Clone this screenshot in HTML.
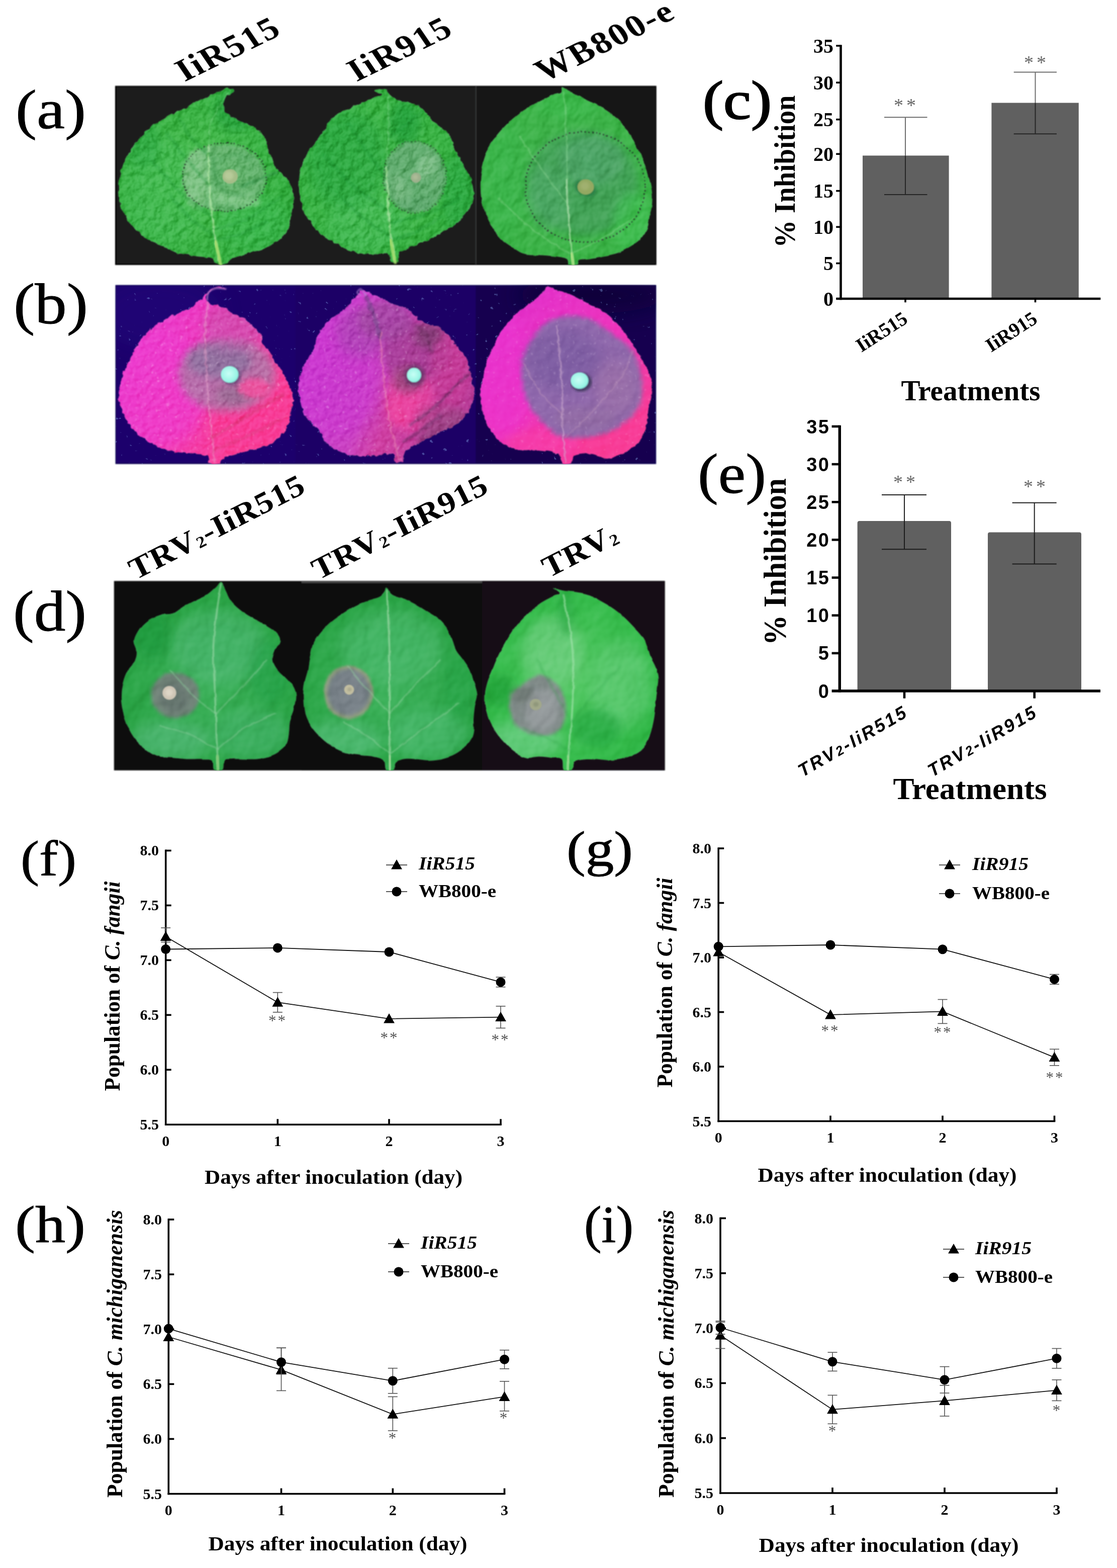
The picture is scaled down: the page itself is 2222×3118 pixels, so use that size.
<!DOCTYPE html>
<html lang="en">
<head>
<meta charset="utf-8">
<title>Figure</title>
<style>
html,body{margin:0;padding:0;background:#fff;}
body{width:2222px;height:3118px;overflow:hidden;}
svg{display:block;}
text{white-space:pre;}
</style>
</head>
<body>
<svg width="2222" height="3118" viewBox="0 0 2222 3118">
<rect width="2222" height="3118" fill="#fff"/>

<defs>
<filter id="b1" x="-50%" y="-50%" width="200%" height="200%"><feGaussianBlur stdDeviation="1"/></filter>
<filter id="b2" x="-50%" y="-50%" width="200%" height="200%"><feGaussianBlur stdDeviation="2"/></filter>
<filter id="b3" x="-50%" y="-50%" width="200%" height="200%"><feGaussianBlur stdDeviation="3"/></filter>
<filter id="b4" x="-50%" y="-50%" width="200%" height="200%"><feGaussianBlur stdDeviation="4"/></filter>
<filter id="b5" x="-50%" y="-50%" width="200%" height="200%"><feGaussianBlur stdDeviation="5"/></filter>
<filter id="b8" x="-50%" y="-50%" width="200%" height="200%"><feGaussianBlur stdDeviation="8"/></filter>
<filter id="b12" x="-50%" y="-50%" width="200%" height="200%"><feGaussianBlur stdDeviation="12"/></filter>
<filter id="b20" x="-50%" y="-50%" width="200%" height="200%"><feGaussianBlur stdDeviation="20"/></filter>
<filter id="soft" x="-2%" y="-5%" width="104%" height="110%"><feGaussianBlur stdDeviation="1.1"/></filter>
<filter id="rough" x="-5%" y="-5%" width="110%" height="110%"><feTurbulence type="fractalNoise" baseFrequency="0.09" numOctaves="2" seed="7" result="n"/><feDisplacementMap in="SourceGraphic" in2="n" scale="7" xChannelSelector="R" yChannelSelector="G"/></filter>
<filter id="rough2" x="-5%" y="-5%" width="110%" height="110%"><feTurbulence type="fractalNoise" baseFrequency="0.05" numOctaves="2" seed="11" result="n"/><feDisplacementMap in="SourceGraphic" in2="n" scale="5" xChannelSelector="R" yChannelSelector="G"/></filter>
<filter id="texL" x="0" y="0" width="100%" height="100%"><feTurbulence type="fractalNoise" baseFrequency="0.055 0.05" numOctaves="3" seed="5"/><feColorMatrix type="matrix" values="0 0 0 0 1  0 0 0 0 1  0 0 0 0 1  3.2 0 0 0 -1.45"/></filter>
<filter id="texD" x="0" y="0" width="100%" height="100%"><feTurbulence type="fractalNoise" baseFrequency="0.05 0.055" numOctaves="3" seed="23"/><feColorMatrix type="matrix" values="0 0 0 0 0  0 0 0 0 0.25  0 0 0 0 0.05  0 3.2 0 0 -1.45"/></filter>
<filter id="texS" x="0" y="0" width="100%" height="100%"><feTurbulence type="fractalNoise" baseFrequency="0.02 0.022" numOctaves="2" seed="9"/><feColorMatrix type="matrix" values="0 0 0 0 1  0 0 0 0 1  0 0 0 0 1  2.6 0 0 0 -1.1"/></filter>
<filter id="spark" x="0" y="0" width="100%" height="100%"><feTurbulence type="fractalNoise" baseFrequency="0.16" numOctaves="2" seed="4"/><feColorMatrix type="matrix" values="0 0 0 0 1  0 0 0 0 0.85  0 0 0 0 1  9 0 0 0 -6.1"/></filter>
<filter id="sparkB" x="0" y="0" width="100%" height="100%"><feTurbulence type="fractalNoise" baseFrequency="0.11" numOctaves="2" seed="14"/><feColorMatrix type="matrix" values="0 0 0 0 0.3  0 0 0 0 0.55  0 0 0 0 1  0 11 0 0 -8.1"/></filter>
<filter id="grain" x="0" y="0" width="100%" height="100%"><feTurbulence type="fractalNoise" baseFrequency="0.5" numOctaves="2" seed="2"/><feColorMatrix type="matrix" values="0 0 0 0 1  0 0 0 0 1  0 0 0 0 1  1.2 0 0 0 -0.45"/></filter>
<filter id="bumpA1" x="-6%" y="-6%" width="112%" height="112%" color-interpolation-filters="sRGB"><feTurbulence type="fractalNoise" baseFrequency="0.06 0.055" numOctaves="3" seed="3" result="n"/><feDiffuseLighting in="n" surfaceScale="5.5" diffuseConstant="0.61" lighting-color="#fff" result="l"><feDistantLight azimuth="225" elevation="55"/></feDiffuseLighting><feBlend in="l" in2="SourceGraphic" mode="soft-light" result="b"/><feComposite in="b" in2="SourceGraphic" operator="in" result="m"/><feTurbulence type="fractalNoise" baseFrequency="0.09" numOctaves="2" seed="7" result="d"/><feDisplacementMap in="m" in2="d" scale="7" xChannelSelector="R" yChannelSelector="G" result="r"/><feGaussianBlur in="r" stdDeviation="1.0"/></filter>
<filter id="bumpA2" x="-6%" y="-6%" width="112%" height="112%" color-interpolation-filters="sRGB"><feTurbulence type="fractalNoise" baseFrequency="0.06 0.055" numOctaves="3" seed="31" result="n"/><feDiffuseLighting in="n" surfaceScale="5.5" diffuseConstant="0.61" lighting-color="#fff" result="l"><feDistantLight azimuth="225" elevation="55"/></feDiffuseLighting><feBlend in="l" in2="SourceGraphic" mode="soft-light" result="b"/><feComposite in="b" in2="SourceGraphic" operator="in" result="m"/><feTurbulence type="fractalNoise" baseFrequency="0.09" numOctaves="2" seed="17" result="d"/><feDisplacementMap in="m" in2="d" scale="7" xChannelSelector="R" yChannelSelector="G" result="r"/><feGaussianBlur in="r" stdDeviation="1.0"/></filter>
<filter id="bumpA3" x="-6%" y="-6%" width="112%" height="112%" color-interpolation-filters="sRGB"><feTurbulence type="fractalNoise" baseFrequency="0.035 0.03" numOctaves="3" seed="12" result="n"/><feDiffuseLighting in="n" surfaceScale="4.5" diffuseConstant="0.61" lighting-color="#fff" result="l"><feDistantLight azimuth="225" elevation="55"/></feDiffuseLighting><feBlend in="l" in2="SourceGraphic" mode="soft-light" result="b"/><feComposite in="b" in2="SourceGraphic" operator="in" result="m"/><feTurbulence type="fractalNoise" baseFrequency="0.05" numOctaves="2" seed="11" result="d"/><feDisplacementMap in="m" in2="d" scale="5" xChannelSelector="R" yChannelSelector="G" result="r"/><feGaussianBlur in="r" stdDeviation="1.0"/></filter>
<filter id="bumpB" x="-6%" y="-6%" width="112%" height="112%" color-interpolation-filters="sRGB"><feTurbulence type="fractalNoise" baseFrequency="0.08" numOctaves="2" seed="8" result="n"/><feDiffuseLighting in="n" surfaceScale="3.0" diffuseConstant="0.61" lighting-color="#fff" result="l"><feDistantLight azimuth="225" elevation="55"/></feDiffuseLighting><feBlend in="l" in2="SourceGraphic" mode="soft-light" result="b"/><feComposite in="b" in2="SourceGraphic" operator="in" result="m"/><feTurbulence type="fractalNoise" baseFrequency="0.11" numOctaves="2" seed="21" result="d"/><feDisplacementMap in="m" in2="d" scale="8" xChannelSelector="R" yChannelSelector="G" result="r"/><feGaussianBlur in="r" stdDeviation="1.3"/></filter>
<filter id="bumpB3" x="-6%" y="-6%" width="112%" height="112%" color-interpolation-filters="sRGB"><feTurbulence type="fractalNoise" baseFrequency="0.05" numOctaves="2" seed="9" result="n"/><feDiffuseLighting in="n" surfaceScale="1.6" diffuseConstant="0.61" lighting-color="#fff" result="l"><feDistantLight azimuth="225" elevation="55"/></feDiffuseLighting><feBlend in="l" in2="SourceGraphic" mode="soft-light" result="b"/><feComposite in="b" in2="SourceGraphic" operator="in" result="m"/><feTurbulence type="fractalNoise" baseFrequency="0.09" numOctaves="2" seed="23" result="d"/><feDisplacementMap in="m" in2="d" scale="6" xChannelSelector="R" yChannelSelector="G" result="r"/><feGaussianBlur in="r" stdDeviation="1.3"/></filter>
<filter id="bumpD" x="-6%" y="-6%" width="112%" height="112%" color-interpolation-filters="sRGB"><feTurbulence type="fractalNoise" baseFrequency="0.022 0.02" numOctaves="3" seed="5" result="n"/><feDiffuseLighting in="n" surfaceScale="4.0" diffuseConstant="0.61" lighting-color="#fff" result="l"><feDistantLight azimuth="225" elevation="55"/></feDiffuseLighting><feBlend in="l" in2="SourceGraphic" mode="soft-light" result="b"/><feComposite in="b" in2="SourceGraphic" operator="in" result="m"/><feTurbulence type="fractalNoise" baseFrequency="0.04" numOctaves="2" seed="13" result="d"/><feDisplacementMap in="m" in2="d" scale="5" xChannelSelector="R" yChannelSelector="G" result="r"/><feGaussianBlur in="r" stdDeviation="1.0"/></filter>
<clipPath id="cA1"><path d="M463.8 177.2C466.3 178.5 468.4 180.9 466.3 183.4C464.3 185.9 455 187.3 451.5 192C448 196.7 445.6 206.4 445.4 211.7C445.2 217.1 446.8 220.3 450.3 224C453.8 227.7 459.5 230.2 466.3 233.9C473.1 237.6 483.1 242.1 490.9 246.2C498.7 250.3 506.9 253.6 513.1 258.5C519.3 263.4 524.6 269.2 527.9 275.8C531.2 282.3 530.8 291.8 532.8 297.9C534.9 304.1 537.3 307 540.2 312.7C543.1 318.5 545.1 325.4 550 332.4C555 339.4 564.4 347.2 569.8 354.6C575.1 362 579.6 368.9 582.1 376.7C584.5 384.5 584.9 393.2 584.5 401.4C584.1 409.6 581.2 417.8 579.6 426C578 434.2 577.1 443.7 574.7 450.6C572.2 457.6 569.3 462.5 564.8 467.9C560.3 473.2 554.6 478.1 547.6 482.7C540.6 487.2 532.4 491.3 523 495C513.5 498.7 501.2 501.5 490.9 504.8C480.7 508.1 468.4 511.4 461.4 514.7C454.4 518 454.4 522.9 449.1 524.5C443.7 526.2 433.9 526.2 429.4 524.5C424.8 522.9 428.1 517.1 422 514.7C415.8 512.2 403.1 511.4 392.4 509.8C381.7 508.1 369.4 508.1 357.9 504.8C346.4 501.5 334.1 495 323.4 490C312.8 485.1 302.9 481 293.9 475.3C284.9 469.5 276.7 463 269.3 455.6C261.9 448.2 254.5 439.1 249.6 430.9C244.6 422.7 242 414.5 239.7 406.3C237.4 398.1 236.4 389.9 236 381.7C235.6 373.5 235.8 366.1 237.2 357C238.7 348 241.3 336.5 244.6 327.5C247.9 318.5 252 311.1 256.9 302.9C261.9 294.6 267.2 286.4 274.2 278.2C281.2 270 289.8 261 298.8 253.6C307.8 246.2 318.5 239.6 328.4 233.9C338.2 228.1 348.1 224 357.9 219.1C367.8 214.2 378.5 208.9 387.5 204.3C396.5 199.8 404.3 195.7 412.1 192C419.9 188.3 427.7 184.8 434.3 182.2C440.9 179.5 446.6 176.8 451.5 176C456.5 175.2 461.4 176 463.8 177.2Z"/></clipPath>
<clipPath id="cA2"><path d="M747.3 178.5C751 177.7 762.1 175.4 767 177.2C772 179.1 772.8 185.9 776.9 189.6C781 193.3 785.1 196.9 791.7 199.4C798.2 201.9 808.9 202.3 816.3 204.3C823.7 206.4 829.9 207.6 836 211.7C842.2 215.8 848.3 223.6 853.3 229C858.2 234.3 860.2 238.8 865.6 243.7C870.9 248.7 879.9 253.2 885.3 258.5C890.6 263.9 894.3 269.6 897.6 275.8C900.9 281.9 902.1 288.5 905 295.5C907.8 302.4 911.1 310.7 914.8 317.6C918.5 324.6 923.4 330.8 927.1 337.3C930.8 343.9 934.5 349.7 937 357C939.5 364.4 941.5 374.3 941.9 381.7C942.3 389.1 941.5 394.8 939.5 401.4C937.4 407.9 933.7 414.9 929.6 421.1C925.5 427.2 920.6 433 914.8 438.3C909.1 443.7 902.5 448.2 895.1 453.1C887.7 458 878.7 463.4 870.5 467.9C862.3 472.4 854.9 476.1 845.9 480.2C836.8 484.3 824.5 488.8 816.3 492.5C808.1 496.2 800.7 497.8 796.6 502.4C792.5 506.9 794.5 516.5 791.7 519.6C788.8 522.7 782.6 523.3 779.4 520.8C776.1 518.4 778.1 507.5 772 504.8C765.8 502.2 753.1 505.2 742.4 504.8C731.7 504.4 719.4 505.2 707.9 502.4C696.4 499.5 684.1 492.9 673.4 487.6C662.8 482.2 652.1 476.5 643.9 470.3C635.7 464.2 630.3 458 624.2 450.6C618 443.3 611.5 435 606.9 426C602.4 417 599.4 406.3 597.1 396.5C594.8 386.6 593.4 376.7 593.4 366.9C593.4 357 594.8 346.4 597.1 337.3C599.4 328.3 602.4 320.9 606.9 312.7C611.5 304.5 618.4 296.3 624.2 288.1C629.9 279.9 636.1 271.7 641.4 263.4C646.8 255.2 649.6 245.8 656.2 238.8C662.8 231.8 672.2 226.5 680.8 221.6C689.5 216.7 699.7 213 707.9 209.3C716.1 205.6 723.5 202.3 730.1 199.4C736.7 196.5 742.4 193.7 747.3 192C752.3 190.4 758.8 190.8 759.7 189.6C760.5 188.3 754.7 185.9 752.3 184.6C749.8 183.4 745.7 183.2 744.9 182.2C744.1 181.1 743.6 179.3 747.3 178.5Z"/></clipPath>
<clipPath id="cA3"><path d="M1119.7 174.8C1123.3 176.4 1132 180.9 1139.4 184.6C1146.7 188.3 1155.8 192.8 1164 196.9C1172.2 201.1 1180.4 204.7 1188.6 209.3C1196.8 213.8 1205.9 218.7 1213.3 224C1220.6 229.4 1226.8 235.1 1233 241.3C1239.1 247.4 1245.3 254 1250.2 261C1255.1 268 1258.4 275.4 1262.5 283.2C1266.6 291 1271.1 299.6 1274.8 307.8C1278.5 316 1281.8 324.2 1284.7 332.4C1287.6 340.6 1290 348.8 1292.1 357C1294.1 365.3 1296.2 373.5 1297 381.7C1297.8 389.9 1297.8 398.1 1297 406.3C1296.2 414.5 1293.7 422.7 1292.1 430.9C1290.4 439.1 1290 448.2 1287.1 455.6C1284.3 463 1280.2 469.5 1274.8 475.3C1269.5 481 1262.5 485.5 1255.1 490C1247.7 494.6 1239.5 499.1 1230.5 502.4C1221.5 505.6 1210.8 507.7 1200.9 509.8C1191.1 511.8 1179.6 513.4 1171.4 514.7C1163.2 515.9 1155.4 515.1 1151.7 517.1C1148 519.2 1152.5 525.4 1149.2 527C1145.9 528.6 1135.7 529 1132 527C1128.3 524.9 1132 517.6 1127 514.7C1122.1 511.8 1111.4 511 1102.4 509.8C1093.4 508.5 1082.7 508.1 1072.9 507.3C1063 506.5 1051.5 506.9 1043.3 504.8C1035.1 502.8 1030.6 499.1 1023.6 495C1016.6 490.9 1008 485.9 1001.4 480.2C994.9 474.4 989.5 467.9 984.2 460.5C978.9 453.1 973.5 444.9 969.4 435.9C965.3 426.8 961.8 416.2 959.6 406.3C957.3 396.5 956.3 386.6 955.9 376.7C955.5 366.9 956.1 356.6 957.1 347.2C958.1 337.8 959.6 329.1 962 320.1C964.5 311.1 967.8 301.2 971.9 293C976 284.8 980.9 278.2 986.7 270.8C992.4 263.4 999.4 255.6 1006.4 248.7C1013.3 241.7 1020.7 235.1 1028.5 229C1036.3 222.8 1044.9 216.7 1053.2 211.7C1061.4 206.8 1069.6 203.5 1077.8 199.4C1086 195.3 1096.1 189.8 1102.4 187.1C1108.8 184.4 1113.5 185.5 1116 183.4C1118.4 181.3 1116.6 176.2 1117.2 174.8C1117.8 173.3 1116 173.1 1119.7 174.8Z"/></clipPath>
<clipPath id="cB1"><path d="M449.1 574.6C448.2 575 435.1 570.9 429.4 572.2C423.6 573.4 417.9 578.3 414.6 582C411.3 585.7 409.2 591.1 409.7 594.3C410.1 597.6 412.5 599.3 417 601.7C421.6 604.2 429.4 605.8 436.7 609.1C444.1 612.4 453.2 617.3 461.4 621.4C469.6 625.5 479 629.2 486 633.7C493 638.3 497.9 643.6 503.3 648.5C508.6 653.4 514.7 657.6 518 663.3C521.3 669 520.1 677.3 523 683C525.8 688.8 531.6 692 535.3 697.8C539 703.5 541 710.9 545.1 717.5C549.2 724.1 555.4 730.2 559.9 737.2C564.4 744.2 568.5 752 572.2 759.4C575.9 766.7 580.4 773.7 582.1 781.5C583.7 789.3 582.9 798.4 582.1 806.2C581.2 814 579.2 820.9 577.1 828.3C575.1 835.7 573 843.9 569.8 850.5C566.5 857.1 562.8 862.4 557.4 867.7C552.1 873.1 545.5 878.4 537.7 882.5C529.9 886.6 520.1 889.5 510.6 892.4C501.2 895.2 490.5 897.3 481.1 899.8C471.6 902.2 460.6 904.7 454 907.1C447.4 909.6 444.5 912.1 441.7 914.5C438.8 917 440.9 920.7 436.7 921.9C432.6 923.2 421.1 924.4 417 921.9C412.9 919.5 417 910.4 412.1 907.1C407.2 903.9 396.5 903.4 387.5 902.2C378.5 901 367.8 901 357.9 899.8C348.1 898.5 338.2 898.1 328.4 894.8C318.5 891.5 307.8 885.4 298.8 880C289.8 874.7 281.6 869.4 274.2 862.8C266.8 856.2 259.8 848.4 254.5 840.6C249.1 832.8 245.2 824.2 242.2 816C239.1 807.8 236.6 799.6 236 791.4C235.4 783.2 237 775 238.5 766.7C239.9 758.5 241.6 750.3 244.6 742.1C247.7 733.9 252.8 725.7 256.9 717.5C261.1 709.3 264.3 701.1 269.3 692.9C274.2 684.6 280.3 675.6 286.5 668.2C292.7 660.8 298.8 654.3 306.2 648.5C313.6 642.8 322.6 638.3 330.8 633.7C339 629.2 347.3 625.1 355.5 621.4C363.7 617.7 373.9 615.3 380.1 611.6C386.3 607.9 388.3 603 392.4 599.3C396.5 595.6 400.6 593.1 404.7 589.4C408.8 585.7 412.1 580.4 417 577.1C422 573.8 428.9 570.1 434.3 569.7C439.6 569.3 449.9 574.2 449.1 574.6Z"/></clipPath>
<clipPath id="cB2"><path d="M717.8 577.1C722.3 576.3 730.9 579.6 737.5 582C744.1 584.5 749.8 588.2 757.2 591.9C764.6 595.6 773.6 600.9 781.8 604.2C790 607.5 799.9 608.3 806.5 611.6C813 614.9 815.5 619 821.2 623.9C827 628.8 833.5 637 840.9 641.1C848.3 645.2 858.2 645.2 865.6 648.5C873 651.8 879.5 655.9 885.3 660.8C891 665.8 895.1 672.3 900 678.1C905 683.8 910.3 689.6 914.8 695.3C919.3 701.1 923.9 706 927.1 712.6C930.4 719.1 932.5 726.9 934.5 734.7C936.6 742.5 937.8 752 939.5 759.4C941.1 766.7 944.4 772.1 944.4 779.1C944.4 786 941.9 794.3 939.5 801.2C937 808.2 933.7 814.8 929.6 820.9C925.5 827.1 920.6 833.3 914.8 838.2C909.1 843.1 902.5 846.4 895.1 850.5C887.7 854.6 878.7 858.7 870.5 862.8C862.3 866.9 854.1 871 845.9 875.1C837.7 879.2 828.2 883.3 821.2 887.4C814.3 891.5 807.3 894.8 804 899.8C800.7 904.7 804 913.7 801.5 917C799.1 920.3 792.9 921.9 789.2 919.5C785.5 917 784.7 904.7 779.4 902.2C774 899.8 765.8 903.9 757.2 904.7C748.6 905.5 737.5 907.1 727.6 907.1C717.8 907.1 707.9 906.7 698.1 904.7C688.2 902.6 677.1 898.9 668.5 894.8C659.9 890.7 651.7 886.2 646.4 880C641 873.9 641 864.4 636.5 857.9C632 851.3 624.6 846.8 619.3 840.6C613.9 834.5 608.2 828.3 604.5 820.9C600.8 813.5 598.9 805.3 597.1 796.3C595.2 787.3 593 775.8 593.4 766.7C593.8 757.7 596.9 750.3 599.6 742.1C602.2 733.9 605.3 725.3 609.4 717.5C613.5 709.7 620.5 703.5 624.2 695.3C627.9 687.1 627.9 676.4 631.6 668.2C635.3 660 640.2 653 646.4 646.1C652.5 639.1 661.5 632.1 668.5 626.4C675.5 620.6 682.9 616.5 688.2 611.6C693.6 606.7 696.8 600.9 700.5 596.8C704.2 592.7 707.5 590.2 710.4 586.9C713.3 583.7 713.3 577.9 717.8 577.1Z"/></clipPath>
<clipPath id="cB3"><path d="M1090.1 569.7C1095 568.9 1100.4 574.6 1107.3 577.1C1114.3 579.6 1123.8 581.2 1132 584.5C1140.2 587.8 1148.4 592.7 1156.6 596.8C1164.8 600.9 1173 604.6 1181.2 609.1C1189.4 613.6 1198.5 618.6 1205.9 623.9C1213.3 629.2 1219.4 635 1225.6 641.1C1231.7 647.3 1237.5 653.9 1242.8 660.8C1248.1 667.8 1253.1 676 1257.6 683C1262.1 690 1265.8 696.1 1269.9 702.7C1274 709.3 1278.5 715.4 1282.2 722.4C1285.9 729.4 1289.6 737.2 1292.1 744.6C1294.5 752 1296.6 758.9 1297 766.7C1297.4 774.5 1295.8 783.2 1294.5 791.4C1293.3 799.6 1290.8 807.8 1289.6 816C1288.4 824.2 1288.8 832.8 1287.1 840.6C1285.5 848.4 1283 855.8 1279.8 862.8C1276.5 869.8 1272.8 876.8 1267.4 882.5C1262.1 888.3 1254.7 893.2 1247.7 897.3C1240.8 901.4 1232.5 904.7 1225.6 907.1C1218.6 909.6 1212.4 912.5 1205.9 912.1C1199.3 911.7 1193.1 906.3 1186.2 904.7C1179.2 903 1171.4 901.8 1164 902.2C1156.6 902.6 1146.7 903.9 1141.8 907.1C1136.9 910.4 1138.5 919.5 1134.4 921.9C1130.3 924.4 1120.9 924.8 1117.2 921.9C1113.5 919 1116.8 908.8 1112.3 904.7C1107.8 900.6 1098.3 898.9 1090.1 897.3C1081.9 895.6 1072.4 895.2 1063 894.8C1053.6 894.4 1042.5 896.1 1033.4 894.8C1024.4 893.6 1016.2 891.1 1008.8 887.4C1001.4 883.7 995.3 878.8 989.1 872.7C983 866.5 976.4 858.3 971.9 850.5C967.4 842.7 964.7 834.9 962 825.9C959.4 816.8 956.7 806.2 955.9 796.3C955 786.5 956.1 775.8 957.1 766.7C958.1 757.7 960 750.3 962 742.1C964.1 733.9 966.5 725.7 969.4 717.5C972.3 709.3 975.6 701.1 979.3 692.9C983 684.6 987.1 676 991.6 668.2C996.1 660.4 1001 653 1006.4 646.1C1011.7 639.1 1017.4 632.1 1023.6 626.4C1029.8 620.6 1036.7 616.5 1043.3 611.6C1049.9 606.7 1057.3 601.7 1063 596.8C1068.8 591.9 1073.3 586.5 1077.8 582C1082.3 577.5 1085.2 570.5 1090.1 569.7Z"/></clipPath>
<clipPath id="cD1"><path d="M440.4 1156C443.7 1157.2 445.9 1168.1 449 1174.5C452.1 1180.8 454.3 1188 458.8 1194.2C463.4 1200.3 469.5 1206.1 476.1 1211.4C482.7 1216.8 490 1221.3 498.3 1226.2C506.5 1231.1 517.1 1236.1 525.3 1241C533.6 1245.9 542.2 1250.4 547.5 1255.8C552.8 1261.1 557.4 1266.8 557.4 1273C557.4 1279.2 550 1286.1 547.5 1292.7C545 1299.3 541.8 1305.8 542.6 1312.4C543.4 1319 547.9 1326 552.4 1332.1C557 1338.3 564.3 1343.6 569.7 1349.4C575 1355.1 581.2 1360.4 584.5 1366.6C587.7 1372.8 589.4 1378.9 589.4 1386.3C589.4 1393.7 586.5 1402.7 584.5 1410.9C582.4 1419.1 578.7 1427.4 577.1 1435.6C575.4 1443.8 575.8 1452.8 574.6 1460.2C573.4 1467.6 573 1474.2 569.7 1479.9C566.4 1485.6 560.6 1490.6 554.9 1494.7C549.2 1498.8 542.6 1502.1 535.2 1504.5C527.8 1507 518.8 1508.6 510.6 1509.5C502.4 1510.3 494.1 1509.5 485.9 1509.5C477.7 1509.5 467.9 1509 461.3 1509.5C454.7 1509.9 449.6 1508.4 446.5 1511.9C443.4 1515.4 446.3 1527.3 442.8 1530.4C439.3 1533.5 429.1 1533.5 425.6 1530.4C422.1 1527.3 425.8 1515.4 421.9 1511.9C418 1508.4 410.4 1509.9 402.2 1509.5C394 1509 382.5 1509.9 372.6 1509.5C362.8 1509 352.9 1507.8 343.1 1507C333.2 1506.2 322.6 1507.4 313.5 1504.5C304.5 1501.7 296.3 1495.5 288.9 1489.8C281.5 1484 274.9 1477.4 269.2 1470C263.4 1462.7 258.5 1454.4 254.4 1445.4C250.3 1436.4 246.8 1425.7 244.6 1415.9C242.3 1406 240.9 1396.2 240.9 1386.3C240.9 1376.5 242.3 1365.8 244.6 1356.7C246.8 1347.7 250.3 1339.5 254.4 1332.1C258.5 1324.7 266.3 1319 269.2 1312.4C272.1 1305.8 272.1 1299.3 271.7 1292.7C271.2 1286.1 265.5 1280.4 266.7 1273C268 1265.6 273.7 1255.4 279 1248.4C284.4 1241.4 291.4 1235.6 298.7 1231.1C306.1 1226.6 316 1223.3 323.4 1221.3C330.8 1219.2 336.5 1221.3 343.1 1218.8C349.6 1216.4 355.4 1210.6 362.8 1206.5C370.2 1202.4 379.2 1198.3 387.4 1194.2C395.6 1190.1 405.1 1186.4 412 1181.9C419 1177.4 424.6 1171.4 429.3 1167.1C434 1162.8 437.1 1154.8 440.4 1156Z"/></clipPath>
<clipPath id="cD2"><path d="M768.4 1169.6C771.3 1170.4 776.4 1178.6 782 1181.9C787.5 1185.2 794.3 1186 801.7 1189.3C809.1 1192.5 818.1 1197.1 826.3 1201.6C834.5 1206.1 843.1 1211.4 850.9 1216.4C858.7 1221.3 866.5 1225.4 873.1 1231.1C879.7 1236.9 885.8 1243.9 890.3 1250.8C894.9 1257.8 897.3 1266 900.2 1273C903.1 1280 903.9 1286.1 907.6 1292.7C911.3 1299.3 917.8 1305.8 922.4 1312.4C926.9 1319 931.4 1325.1 934.7 1332.1C938 1339.1 939.6 1346.1 942.1 1354.3C944.5 1362.5 949 1372.8 949.5 1381.4C949.9 1390 945.8 1397.8 944.5 1406C943.3 1414.2 942.5 1422.4 942.1 1430.6C941.7 1438.9 943.3 1447.9 942.1 1455.3C940.8 1462.7 938.4 1469.2 934.7 1475C931 1480.7 925.6 1485.2 919.9 1489.8C914.2 1494.3 907.6 1498.8 900.2 1502.1C892.8 1505.4 883.8 1507.8 875.6 1509.5C867.4 1511.1 859.1 1511.9 850.9 1511.9C842.7 1511.9 834.5 1509.9 826.3 1509.5C818.1 1509 808.2 1508.2 801.7 1509.5C795.1 1510.7 789.8 1513.4 786.9 1516.8C784 1520.3 787.7 1528.1 784.4 1530.4C781.1 1532.7 770.9 1533.5 767.2 1530.4C763.5 1527.3 766.4 1516.2 762.3 1511.9C758.2 1507.6 750 1506.2 742.6 1504.5C735.2 1502.9 727 1503.3 717.9 1502.1C708.9 1500.8 697.8 1500 688.4 1497.1C678.9 1494.3 669.5 1489.8 661.3 1484.8C653.1 1479.9 646.1 1474.2 639.1 1467.6C632.1 1461 624.7 1453.2 619.4 1445.4C614.1 1437.6 609.8 1429.8 607.1 1420.8C604.4 1411.8 603.8 1401.1 603.4 1391.2C603 1381.4 603.2 1371.5 604.6 1361.7C606.1 1351.8 610 1342 612 1332.1C614.1 1322.3 614.9 1311.6 616.9 1302.6C619 1293.5 620.6 1285.7 624.3 1277.9C628 1270.1 633.4 1262.7 639.1 1255.8C644.9 1248.8 651.4 1242.2 658.8 1236.1C666.2 1229.9 675.2 1224.2 683.4 1218.8C691.7 1213.5 699.9 1208.1 708.1 1204C716.3 1199.9 724.9 1197.1 732.7 1194.2C740.5 1191.3 749.5 1189.7 754.9 1186.8C760.2 1183.9 762.5 1179.8 764.7 1176.9C767 1174.1 765.6 1168.7 768.4 1169.6Z"/></clipPath>
<clipPath id="cD3"><path d="M1100.1 1169.6C1101.3 1168.7 1112.4 1173.3 1119.8 1174.5C1127.2 1175.7 1136.2 1175.7 1144.4 1176.9C1152.6 1178.2 1160.9 1179 1169.1 1181.9C1177.3 1184.7 1185.5 1189.7 1193.7 1194.2C1201.9 1198.7 1210.5 1203.6 1218.3 1209C1226.1 1214.3 1233.5 1220 1240.5 1226.2C1247.5 1232.4 1254 1239.3 1260.2 1245.9C1266.4 1252.5 1272.9 1259 1277.4 1265.6C1282 1272.2 1284.4 1278.3 1287.3 1285.3C1290.2 1292.3 1291.8 1300.5 1294.7 1307.5C1297.6 1314.5 1302.1 1320.2 1304.5 1327.2C1307 1334.2 1309 1341.6 1309.5 1349.4C1309.9 1357.2 1307.8 1365.8 1307 1374C1306.2 1382.2 1305.4 1390.4 1304.5 1398.6C1303.7 1406.8 1303.3 1415 1302.1 1423.3C1300.8 1431.5 1299.2 1440.1 1297.1 1447.9C1295.1 1455.7 1293 1463.1 1289.8 1470C1286.5 1477 1282.8 1484.4 1277.4 1489.8C1272.1 1495.1 1264.7 1498.8 1257.7 1502.1C1250.8 1505.4 1243.4 1507.8 1235.6 1509.5C1227.8 1511.1 1219.1 1511.9 1210.9 1511.9C1202.7 1511.9 1194.5 1509.9 1186.3 1509.5C1178.1 1509 1168.7 1508.6 1161.7 1509.5C1154.7 1510.3 1148.5 1510.9 1144.4 1514.4C1140.3 1517.9 1140.9 1527.7 1137 1530.4C1133.1 1533.1 1124.3 1533.9 1121 1530.4C1117.8 1526.9 1121.2 1513.4 1117.3 1509.5C1113.4 1505.6 1105 1507.8 1097.6 1507C1090.2 1506.2 1081.2 1504.5 1073 1504.5C1064.8 1504.5 1056.2 1508.2 1048.4 1507C1040.6 1505.8 1033.2 1501.7 1026.2 1497.1C1019.2 1492.6 1012.7 1486.1 1006.5 1479.9C1000.3 1473.7 994.6 1467.6 989.3 1460.2C983.9 1452.8 978.4 1444.2 974.5 1435.6C970.6 1426.9 967.5 1417.5 965.9 1408.5C964.2 1399.4 964 1390 964.6 1381.4C965.2 1372.8 967.1 1365 969.6 1356.7C972 1348.5 976.1 1340.3 979.4 1332.1C982.7 1323.9 985.6 1315.7 989.3 1307.5C993 1299.3 997.1 1291.1 1001.6 1282.9C1006.1 1274.6 1011 1266 1016.4 1258.2C1021.7 1250.4 1027.4 1243 1033.6 1236.1C1039.8 1229.1 1046.3 1222.5 1053.3 1216.4C1060.3 1210.2 1068.1 1204 1075.5 1199.1C1082.9 1194.2 1091.5 1190.1 1097.6 1186.8C1103.8 1183.5 1112 1182.3 1112.4 1179.4C1112.8 1176.5 1098.9 1170.4 1100.1 1169.6Z"/></clipPath>
<clipPath id="pA"><rect x="229" y="170.7" width="1076.7" height="356.2"/></clipPath>
<clipPath id="pB"><rect x="229.6" y="566.8" width="1075.6" height="355.9"/></clipPath>
<clipPath id="pD"><rect x="226.8" y="1155.3" width="1095.7" height="376.6"/></clipPath>
<radialGradient id="gA" cx="0.45" cy="0.5" r="0.65"><stop offset="0" stop-color="#50c054"/><stop offset="0.7" stop-color="#3ab446"/><stop offset="1" stop-color="#2eaa3c"/></radialGradient>
<radialGradient id="gA3" cx="0.5" cy="0.5" r="0.65"><stop offset="0" stop-color="#48b654"/><stop offset="0.7" stop-color="#3cb448"/><stop offset="1" stop-color="#32ae40"/></radialGradient>
<radialGradient id="gD" cx="0.5" cy="0.55" r="0.65"><stop offset="0" stop-color="#3eb25c"/><stop offset="0.7" stop-color="#2ca648"/><stop offset="1" stop-color="#1f9a3a"/></radialGradient>
<radialGradient id="gD3" cx="0.5" cy="0.5" r="0.65"><stop offset="0" stop-color="#54c864"/><stop offset="0.7" stop-color="#36bc4c"/><stop offset="1" stop-color="#28b040"/></radialGradient>
<linearGradient id="gB1" x1="0" y1="0.2" x2="1" y2="0.9"><stop offset="0" stop-color="#e83cd4"/><stop offset="0.45" stop-color="#f03cbc"/><stop offset="0.75" stop-color="#f8409c"/><stop offset="1" stop-color="#f83c94"/></linearGradient>
<linearGradient id="gB2" x1="0" y1="0.3" x2="1" y2="0.7"><stop offset="0" stop-color="#d03cd8"/><stop offset="0.45" stop-color="#cc44c4"/><stop offset="0.6" stop-color="#d040a4"/><stop offset="1" stop-color="#b83c98"/></linearGradient>
<linearGradient id="gB3" x1="0.1" y1="0" x2="0.9" y2="1"><stop offset="0" stop-color="#e030d0"/><stop offset="0.5" stop-color="#ee34bc"/><stop offset="0.85" stop-color="#f83c98"/><stop offset="1" stop-color="#f84090"/></linearGradient>
<radialGradient id="gDisc" cx="0.45" cy="0.45" r="0.6"><stop offset="0" stop-color="#c8fff6"/><stop offset="0.8" stop-color="#98f4e4"/><stop offset="1" stop-color="#6cd4cc"/></radialGradient>
</defs>
<g id="photos">
<g filter="url(#soft)">
<rect x="229" y="170.7" width="1076.7" height="356.2" fill="#060606"/>
<rect x="231.5" y="173.2" width="357" height="351.2" fill="#1a1c1b"/>
<rect x="588.5" y="173.2" width="358.5" height="351.2" fill="#1a1b1a"/>
<rect x="947" y="173.2" width="356.2" height="351.2" fill="#181818"/>
<rect x="946" y="172" width="1.6" height="353" fill="#3a3d3c"/>
</g>
<g clip-path="url(#pA)">
<g filter="url(#bumpA1)"><path d="M463.8 177.2C466.3 178.5 468.4 180.9 466.3 183.4C464.3 185.9 455 187.3 451.5 192C448 196.7 445.6 206.4 445.4 211.7C445.2 217.1 446.8 220.3 450.3 224C453.8 227.7 459.5 230.2 466.3 233.9C473.1 237.6 483.1 242.1 490.9 246.2C498.7 250.3 506.9 253.6 513.1 258.5C519.3 263.4 524.6 269.2 527.9 275.8C531.2 282.3 530.8 291.8 532.8 297.9C534.9 304.1 537.3 307 540.2 312.7C543.1 318.5 545.1 325.4 550 332.4C555 339.4 564.4 347.2 569.8 354.6C575.1 362 579.6 368.9 582.1 376.7C584.5 384.5 584.9 393.2 584.5 401.4C584.1 409.6 581.2 417.8 579.6 426C578 434.2 577.1 443.7 574.7 450.6C572.2 457.6 569.3 462.5 564.8 467.9C560.3 473.2 554.6 478.1 547.6 482.7C540.6 487.2 532.4 491.3 523 495C513.5 498.7 501.2 501.5 490.9 504.8C480.7 508.1 468.4 511.4 461.4 514.7C454.4 518 454.4 522.9 449.1 524.5C443.7 526.2 433.9 526.2 429.4 524.5C424.8 522.9 428.1 517.1 422 514.7C415.8 512.2 403.1 511.4 392.4 509.8C381.7 508.1 369.4 508.1 357.9 504.8C346.4 501.5 334.1 495 323.4 490C312.8 485.1 302.9 481 293.9 475.3C284.9 469.5 276.7 463 269.3 455.6C261.9 448.2 254.5 439.1 249.6 430.9C244.6 422.7 242 414.5 239.7 406.3C237.4 398.1 236.4 389.9 236 381.7C235.6 373.5 235.8 366.1 237.2 357C238.7 348 241.3 336.5 244.6 327.5C247.9 318.5 252 311.1 256.9 302.9C261.9 294.6 267.2 286.4 274.2 278.2C281.2 270 289.8 261 298.8 253.6C307.8 246.2 318.5 239.6 328.4 233.9C338.2 228.1 348.1 224 357.9 219.1C367.8 214.2 378.5 208.9 387.5 204.3C396.5 199.8 404.3 195.7 412.1 192C419.9 188.3 427.7 184.8 434.3 182.2C440.9 179.5 446.6 176.8 451.5 176C456.5 175.2 461.4 176 463.8 177.2Z" fill="url(#gA)"/><g clip-path="url(#cA1)"><ellipse cx="330.8" cy="381.7" rx="81.3" ry="103.4" fill="#48c05c" filter="url(#b12)" opacity="0.55" />
<ellipse cx="503.3" cy="443.3" rx="73.9" ry="54.2" fill="#40bc54" filter="url(#b12)" opacity="0.6" />
<ellipse cx="466.3" cy="221.6" rx="39.4" ry="39.4" fill="#22a03c" filter="url(#b8)" opacity="0.6" />
<ellipse cx="281.6" cy="283.2" rx="36.9" ry="49.3" fill="#2aa844" filter="url(#b8)" opacity="0.5" />
<ellipse cx="445.4" cy="353.3" rx="82.5" ry="66.5" fill="#6cb676" filter="url(#b2)" opacity="0.9" />
<ellipse cx="390" cy="354.6" rx="24.6" ry="59.1" fill="#88c88c" filter="url(#b5)" opacity="0.8" />
<ellipse cx="466.3" cy="394" rx="54.2" ry="14.8" fill="#90d094" filter="url(#b5)" transform="rotate(10 466.3 394)" opacity="0.6" />
<path d="M424.4 312.7C425.3 320.1 425.3 345.6 429.4 357C433.5 368.5 439.6 376.3 449.1 381.7C458.5 387 479.9 387.8 486 389.1" fill="none" stroke="#3f9a50" stroke-width="7" stroke-linecap="round" stroke-linejoin="round" filter="url(#b3)" opacity="0.65"/>
<path d="M481.1 369.4C486.8 367.3 504.1 361.6 515.6 357C527.1 352.5 544.3 344.7 550 342.3" fill="none" stroke="#2f8f44" stroke-width="5" stroke-linecap="round" stroke-linejoin="round" filter="url(#b2)" opacity="0.7"/>
<path d="M436.7 317.6C441.7 316 456 307.8 466.3 307.8C476.6 307.8 493 316 498.3 317.6" fill="none" stroke="#4fa860" stroke-width="6" stroke-linecap="round" stroke-linejoin="round" filter="url(#b3)" opacity="0.5"/>
<ellipse cx="446.6" cy="352.1" rx="83.7" ry="67.7" fill="none" stroke="#24342a" stroke-width="2.8" stroke-dasharray="0.1 6.5" stroke-linecap="round" opacity="0.85"/>
<path d="M438 523.3C436.5 516.1 432.2 497.6 429.4 480.2C426.5 462.8 423 439.1 420.7 418.6C418.5 398.1 416.8 378.8 415.8 357C414.8 335.3 414.8 299.6 414.6 288.1" fill="none" stroke="#b4e8a8" stroke-width="3.6" stroke-linecap="round" stroke-linejoin="round" filter="url(#b1)" opacity="0.85"/>
<path d="M414.6 288.1C415.4 281.1 416.2 258.5 419.5 246.2C422.8 233.9 428.5 224.4 434.3 214.2C440 203.9 450.7 189.6 454 184.6" fill="none" stroke="#7ed488" stroke-width="2.4" stroke-linecap="round" stroke-linejoin="round" filter="url(#b1)" opacity="0.6"/>
<path d="M426.9 467.9C419.1 462.5 394.9 449 380.1 435.9C365.3 422.7 345.2 396.9 338.2 389.1" fill="none" stroke="#169030" stroke-width="3.2" stroke-linecap="round" stroke-linejoin="round" filter="url(#b2)" opacity="0.55"/>
<path d="M422 430.9C411.3 422.7 378 400.6 357.9 381.7C337.8 362.8 310.7 328.3 301.3 317.6" fill="none" stroke="#169030" stroke-width="3.2" stroke-linecap="round" stroke-linejoin="round" filter="url(#b2)" opacity="0.55"/>
<path d="M417 369.4C408.8 359.9 382.2 330.4 367.8 312.7C353.4 295.1 337 271.7 330.8 263.4" fill="none" stroke="#169030" stroke-width="3.2" stroke-linecap="round" stroke-linejoin="round" filter="url(#b2)" opacity="0.55"/>
<path d="M429.4 477.7C437.6 475.7 461.8 471.6 478.6 465.4C495.5 459.3 521.7 444.9 530.3 440.8" fill="none" stroke="#169030" stroke-width="3.2" stroke-linecap="round" stroke-linejoin="round" filter="url(#b2)" opacity="0.55"/>
<path d="M425.7 455.6C436.5 452.3 468.6 446.5 490.9 435.9C513.3 425.2 548.4 398.9 559.9 391.5" fill="none" stroke="#169030" stroke-width="3.2" stroke-linecap="round" stroke-linejoin="round" filter="url(#b2)" opacity="0.55"/>
<path d="M417 307.8C410.5 301.6 387.5 283.2 377.6 270.8C367.8 258.5 361.2 240 357.9 233.9" fill="none" stroke="#169030" stroke-width="3.2" stroke-linecap="round" stroke-linejoin="round" filter="url(#b2)" opacity="0.55"/></g></g><g filter="url(#soft)"><ellipse cx="457.7" cy="350.9" rx="15.3" ry="14.3" fill="#a5bd88" /><ellipse cx="455.2" cy="349.2" rx="9.4" ry="8.9" fill="#bccf9e" filter="url(#b2)" opacity="0.8" /><path d="M439.2 527C438.4 523.3 436.1 512.6 434.3 504.8C432.4 497 429.2 484.3 428.1 480.2" fill="none" stroke="#a4dc6c" stroke-width="6" stroke-linecap="round" stroke-linejoin="round" filter="url(#b1)" opacity="0.9"/></g>
<g filter="url(#bumpA2)"><path d="M747.3 178.5C751 177.7 762.1 175.4 767 177.2C772 179.1 772.8 185.9 776.9 189.6C781 193.3 785.1 196.9 791.7 199.4C798.2 201.9 808.9 202.3 816.3 204.3C823.7 206.4 829.9 207.6 836 211.7C842.2 215.8 848.3 223.6 853.3 229C858.2 234.3 860.2 238.8 865.6 243.7C870.9 248.7 879.9 253.2 885.3 258.5C890.6 263.9 894.3 269.6 897.6 275.8C900.9 281.9 902.1 288.5 905 295.5C907.8 302.4 911.1 310.7 914.8 317.6C918.5 324.6 923.4 330.8 927.1 337.3C930.8 343.9 934.5 349.7 937 357C939.5 364.4 941.5 374.3 941.9 381.7C942.3 389.1 941.5 394.8 939.5 401.4C937.4 407.9 933.7 414.9 929.6 421.1C925.5 427.2 920.6 433 914.8 438.3C909.1 443.7 902.5 448.2 895.1 453.1C887.7 458 878.7 463.4 870.5 467.9C862.3 472.4 854.9 476.1 845.9 480.2C836.8 484.3 824.5 488.8 816.3 492.5C808.1 496.2 800.7 497.8 796.6 502.4C792.5 506.9 794.5 516.5 791.7 519.6C788.8 522.7 782.6 523.3 779.4 520.8C776.1 518.4 778.1 507.5 772 504.8C765.8 502.2 753.1 505.2 742.4 504.8C731.7 504.4 719.4 505.2 707.9 502.4C696.4 499.5 684.1 492.9 673.4 487.6C662.8 482.2 652.1 476.5 643.9 470.3C635.7 464.2 630.3 458 624.2 450.6C618 443.3 611.5 435 606.9 426C602.4 417 599.4 406.3 597.1 396.5C594.8 386.6 593.4 376.7 593.4 366.9C593.4 357 594.8 346.4 597.1 337.3C599.4 328.3 602.4 320.9 606.9 312.7C611.5 304.5 618.4 296.3 624.2 288.1C629.9 279.9 636.1 271.7 641.4 263.4C646.8 255.2 649.6 245.8 656.2 238.8C662.8 231.8 672.2 226.5 680.8 221.6C689.5 216.7 699.7 213 707.9 209.3C716.1 205.6 723.5 202.3 730.1 199.4C736.7 196.5 742.4 193.7 747.3 192C752.3 190.4 758.8 190.8 759.7 189.6C760.5 188.3 754.7 185.9 752.3 184.6C749.8 183.4 745.7 183.2 744.9 182.2C744.1 181.1 743.6 179.3 747.3 178.5Z" fill="url(#gA)"/><g clip-path="url(#cA2)"><ellipse cx="693.2" cy="320.1" rx="81.3" ry="98.5" fill="#28a642" filter="url(#b12)" opacity="0.6" />
<ellipse cx="730.1" cy="443.3" rx="78.8" ry="54.2" fill="#4cc060" filter="url(#b12)" opacity="0.55" />
<ellipse cx="909.9" cy="381.7" rx="32" ry="73.9" fill="#2ca844" filter="url(#b8)" opacity="0.6" />
<ellipse cx="804" cy="246.2" rx="32" ry="44.3" fill="#1f9c3a" filter="url(#b8)" opacity="0.6" />
<ellipse cx="824.9" cy="352.1" rx="61.6" ry="70.2" fill="#68ae76" filter="url(#b2)" opacity="0.92" />
<ellipse cx="848.3" cy="330" rx="17.2" ry="27.1" fill="#94cc9c" filter="url(#b5)" transform="rotate(20 848.3 330)" opacity="0.6" />
<ellipse cx="796.6" cy="376.7" rx="14.8" ry="32" fill="#8cc594" filter="url(#b5)" transform="rotate(-20 796.6 376.7)" opacity="0.5" />
<ellipse cx="828.6" cy="406.3" rx="36.9" ry="12.3" fill="#5fa870" filter="url(#b5)" opacity="0.6" />
<ellipse cx="824.9" cy="352.1" rx="62.8" ry="71.4" fill="none" stroke="#24342a" stroke-width="2.8" stroke-dasharray="0.1 6.5" stroke-linecap="round" opacity="0.6"/>
<path d="M786.3 519.6C784.7 511 779.3 486.8 776.9 467.9C774.5 449 773.3 428.9 772 406.3C770.7 383.7 769.5 344.7 769 332.4" fill="none" stroke="#b4e8a8" stroke-width="3.6" stroke-linecap="round" stroke-linejoin="round" filter="url(#b1)" opacity="0.85"/>
<path d="M769 332.4C769.7 320.1 772.7 281.9 773.2 258.5C773.7 235.1 772.2 203.1 772 192" fill="none" stroke="#7ed488" stroke-width="2.4" stroke-linecap="round" stroke-linejoin="round" filter="url(#b1)" opacity="0.6"/>
<path d="M774.4 467.9C766.6 463 743.2 450.6 727.6 438.3C712 426 688.6 401.4 680.8 394" fill="none" stroke="#118a2c" stroke-width="3.2" stroke-linecap="round" stroke-linejoin="round" filter="url(#b2)" opacity="0.55"/>
<path d="M770.7 418.6C759.4 410.4 724.1 387.8 703 369.4C681.9 350.9 653.7 318 643.9 307.8" fill="none" stroke="#118a2c" stroke-width="3.2" stroke-linecap="round" stroke-linejoin="round" filter="url(#b2)" opacity="0.55"/>
<path d="M769.5 357C762.5 347.2 740.4 316.4 727.6 297.9C714.9 279.5 698.9 254.8 693.2 246.2" fill="none" stroke="#118a2c" stroke-width="3.2" stroke-linecap="round" stroke-linejoin="round" filter="url(#b2)" opacity="0.55"/>
<path d="M776.9 477.7C785.5 474.9 811.8 468.3 828.6 460.5C845.5 452.7 869.7 435.9 877.9 430.9" fill="none" stroke="#118a2c" stroke-width="3.2" stroke-linecap="round" stroke-linejoin="round" filter="url(#b2)" opacity="0.55"/>
<path d="M774.4 443.3C786.7 440.4 824.9 434.2 848.3 426C871.7 417.8 903.7 399.3 914.8 394" fill="none" stroke="#118a2c" stroke-width="3.2" stroke-linecap="round" stroke-linejoin="round" filter="url(#b2)" opacity="0.55"/>
<path d="M774.4 270.8C779.8 267.1 795.4 256.9 806.5 248.7C817.5 240.5 835.2 226.1 840.9 221.6" fill="none" stroke="#118a2c" stroke-width="3.2" stroke-linecap="round" stroke-linejoin="round" filter="url(#b2)" opacity="0.55"/></g></g><g filter="url(#soft)"><ellipse cx="827.4" cy="353.3" rx="10.3" ry="10.3" fill="#9cb08c" /><ellipse cx="826.2" cy="352.1" rx="5.4" ry="5.4" fill="#b4c09c" filter="url(#b2)" opacity="0.8" /><path d="M786.3 522.1C785.6 519.2 783.9 512.2 782.3 504.8C780.8 497.4 777.8 482.2 776.9 477.7" fill="none" stroke="#a4dc6c" stroke-width="6" stroke-linecap="round" stroke-linejoin="round" filter="url(#b1)" opacity="0.9"/></g>
<g filter="url(#bumpA3)"><path d="M1119.7 174.8C1123.3 176.4 1132 180.9 1139.4 184.6C1146.7 188.3 1155.8 192.8 1164 196.9C1172.2 201.1 1180.4 204.7 1188.6 209.3C1196.8 213.8 1205.9 218.7 1213.3 224C1220.6 229.4 1226.8 235.1 1233 241.3C1239.1 247.4 1245.3 254 1250.2 261C1255.1 268 1258.4 275.4 1262.5 283.2C1266.6 291 1271.1 299.6 1274.8 307.8C1278.5 316 1281.8 324.2 1284.7 332.4C1287.6 340.6 1290 348.8 1292.1 357C1294.1 365.3 1296.2 373.5 1297 381.7C1297.8 389.9 1297.8 398.1 1297 406.3C1296.2 414.5 1293.7 422.7 1292.1 430.9C1290.4 439.1 1290 448.2 1287.1 455.6C1284.3 463 1280.2 469.5 1274.8 475.3C1269.5 481 1262.5 485.5 1255.1 490C1247.7 494.6 1239.5 499.1 1230.5 502.4C1221.5 505.6 1210.8 507.7 1200.9 509.8C1191.1 511.8 1179.6 513.4 1171.4 514.7C1163.2 515.9 1155.4 515.1 1151.7 517.1C1148 519.2 1152.5 525.4 1149.2 527C1145.9 528.6 1135.7 529 1132 527C1128.3 524.9 1132 517.6 1127 514.7C1122.1 511.8 1111.4 511 1102.4 509.8C1093.4 508.5 1082.7 508.1 1072.9 507.3C1063 506.5 1051.5 506.9 1043.3 504.8C1035.1 502.8 1030.6 499.1 1023.6 495C1016.6 490.9 1008 485.9 1001.4 480.2C994.9 474.4 989.5 467.9 984.2 460.5C978.9 453.1 973.5 444.9 969.4 435.9C965.3 426.8 961.8 416.2 959.6 406.3C957.3 396.5 956.3 386.6 955.9 376.7C955.5 366.9 956.1 356.6 957.1 347.2C958.1 337.8 959.6 329.1 962 320.1C964.5 311.1 967.8 301.2 971.9 293C976 284.8 980.9 278.2 986.7 270.8C992.4 263.4 999.4 255.6 1006.4 248.7C1013.3 241.7 1020.7 235.1 1028.5 229C1036.3 222.8 1044.9 216.7 1053.2 211.7C1061.4 206.8 1069.6 203.5 1077.8 199.4C1086 195.3 1096.1 189.8 1102.4 187.1C1108.8 184.4 1113.5 185.5 1116 183.4C1118.4 181.3 1116.6 176.2 1117.2 174.8C1117.8 173.3 1116 173.1 1119.7 174.8Z" fill="url(#gA3)"/><g clip-path="url(#cA3)"><ellipse cx="1003.9" cy="357" rx="49.3" ry="110.8" fill="#3cb850" filter="url(#b12)" opacity="0.6" />
<ellipse cx="1159.1" cy="364.4" rx="110.8" ry="103.4" fill="#44a05c" filter="url(#b8)" opacity="0.8" />
<ellipse cx="1176.3" cy="320.1" rx="64" ry="49.3" fill="#58a874" filter="url(#b8)" opacity="0.55" />
<ellipse cx="1090.1" cy="394" rx="39.4" ry="61.6" fill="#54ac70" filter="url(#b8)" opacity="0.5" />
<ellipse cx="1257.6" cy="443.3" rx="36.9" ry="61.6" fill="#44c458" filter="url(#b8)" opacity="0.6" />
<ellipse cx="1127" cy="209.3" rx="61.6" ry="29.6" fill="#3cbc50" filter="url(#b8)" opacity="0.5" />
<ellipse cx="1164" cy="371.8" rx="119.5" ry="109.6" fill="none" stroke="#2a3a30" stroke-width="3.2" stroke-dasharray="0.1 7.5" stroke-linecap="round" opacity="0.85"/>
<path d="M1140.6 525.8C1139.6 518.2 1136.2 498.1 1134.4 480.2C1132.7 462.3 1131 439.1 1130 418.6C1129 398.1 1128.6 367.3 1128.3 357" fill="none" stroke="#c8ecc0" stroke-width="3" stroke-linecap="round" stroke-linejoin="round" filter="url(#b1)" opacity="0.8"/>
<path d="M1128.3 357C1128.1 344.7 1128.1 312.3 1127 283.2C1126 254 1122.9 199 1122.1 182.2" fill="none" stroke="#90dc98" stroke-width="2.4" stroke-linecap="round" stroke-linejoin="round" filter="url(#b1)" opacity="0.55"/>
<path d="M1132 504.8C1119.7 496.6 1081.5 474 1058.1 455.6C1034.7 437.1 1002.7 404.3 991.6 394" fill="none" stroke="#9ade9c" stroke-width="2.4" stroke-linecap="round" stroke-linejoin="round" filter="url(#b1)" opacity="0.45"/>
<path d="M1129.5 406.3C1120.9 394.8 1093.8 359.9 1077.8 337.3C1061.8 314.8 1040.8 281.9 1033.4 270.8" fill="none" stroke="#9ade9c" stroke-width="2.4" stroke-linecap="round" stroke-linejoin="round" filter="url(#b1)" opacity="0.45"/>
<path d="M1134.4 504.8C1145.5 499.5 1179.6 485.1 1200.9 472.8C1222.3 460.5 1252.2 437.9 1262.5 430.9" fill="none" stroke="#9ade9c" stroke-width="2.4" stroke-linecap="round" stroke-linejoin="round" filter="url(#b1)" opacity="0.45"/></g></g><g filter="url(#soft)"><ellipse cx="1164" cy="374.3" rx="22.2" ry="14.8" fill="#1f6a3a" filter="url(#b3)" transform="rotate(25 1164 374.3)" opacity="0.7" /><ellipse cx="1165.2" cy="371.8" rx="16.3" ry="15.3" fill="#94a862" /><ellipse cx="1163.5" cy="369.9" rx="8.9" ry="8.4" fill="#a6b474" filter="url(#b2)" opacity="0.7" /><path d="M1140.8 528.2C1140.2 524.3 1137.6 508.7 1136.9 504.8" fill="none" stroke="#a8e080" stroke-width="6" stroke-linecap="round" stroke-linejoin="round" filter="url(#b1)" opacity="0.9"/></g>
</g>
<g filter="url(#soft)">
<rect x="229.6" y="566.8" width="1075.6" height="355.9" fill="#0c0350"/>
<rect x="231.6" y="568.8" width="357" height="351.9" fill="#1c026c"/>
<rect x="588.5" y="568.8" width="358" height="351.9" fill="#1a0366"/>
<rect x="946.5" y="568.8" width="356.7" height="351.9" fill="#130350"/>
</g>
<g clip-path="url(#pB)">
<ellipse cx="318.5" cy="623.9" rx="123.2" ry="73.9" fill="#280a84" filter="url(#b20)" opacity="0.35" />
<ellipse cx="1176.3" cy="586.9" rx="147.8" ry="36.9" fill="#080238" filter="url(#b20)" opacity="0.8" />
<rect x="225" y="561" width="1085" height="366" filter="url(#sparkB)" opacity="0.35"/>
<g filter="url(#bumpB)"><path d="M449.1 574.6C448.2 575 435.1 570.9 429.4 572.2C423.6 573.4 417.9 578.3 414.6 582C411.3 585.7 409.2 591.1 409.7 594.3C410.1 597.6 412.5 599.3 417 601.7C421.6 604.2 429.4 605.8 436.7 609.1C444.1 612.4 453.2 617.3 461.4 621.4C469.6 625.5 479 629.2 486 633.7C493 638.3 497.9 643.6 503.3 648.5C508.6 653.4 514.7 657.6 518 663.3C521.3 669 520.1 677.3 523 683C525.8 688.8 531.6 692 535.3 697.8C539 703.5 541 710.9 545.1 717.5C549.2 724.1 555.4 730.2 559.9 737.2C564.4 744.2 568.5 752 572.2 759.4C575.9 766.7 580.4 773.7 582.1 781.5C583.7 789.3 582.9 798.4 582.1 806.2C581.2 814 579.2 820.9 577.1 828.3C575.1 835.7 573 843.9 569.8 850.5C566.5 857.1 562.8 862.4 557.4 867.7C552.1 873.1 545.5 878.4 537.7 882.5C529.9 886.6 520.1 889.5 510.6 892.4C501.2 895.2 490.5 897.3 481.1 899.8C471.6 902.2 460.6 904.7 454 907.1C447.4 909.6 444.5 912.1 441.7 914.5C438.8 917 440.9 920.7 436.7 921.9C432.6 923.2 421.1 924.4 417 921.9C412.9 919.5 417 910.4 412.1 907.1C407.2 903.9 396.5 903.4 387.5 902.2C378.5 901 367.8 901 357.9 899.8C348.1 898.5 338.2 898.1 328.4 894.8C318.5 891.5 307.8 885.4 298.8 880C289.8 874.7 281.6 869.4 274.2 862.8C266.8 856.2 259.8 848.4 254.5 840.6C249.1 832.8 245.2 824.2 242.2 816C239.1 807.8 236.6 799.6 236 791.4C235.4 783.2 237 775 238.5 766.7C239.9 758.5 241.6 750.3 244.6 742.1C247.7 733.9 252.8 725.7 256.9 717.5C261.1 709.3 264.3 701.1 269.3 692.9C274.2 684.6 280.3 675.6 286.5 668.2C292.7 660.8 298.8 654.3 306.2 648.5C313.6 642.8 322.6 638.3 330.8 633.7C339 629.2 347.3 625.1 355.5 621.4C363.7 617.7 373.9 615.3 380.1 611.6C386.3 607.9 388.3 603 392.4 599.3C396.5 595.6 400.6 593.1 404.7 589.4C408.8 585.7 412.1 580.4 417 577.1C422 573.8 428.9 570.1 434.3 569.7C439.6 569.3 449.9 574.2 449.1 574.6Z" fill="url(#gB1)"/><g clip-path="url(#cB1)"><ellipse cx="318.5" cy="771.7" rx="93.6" ry="118.2" fill="#ee3cd0" filter="url(#b12)" opacity="0.6" />
<ellipse cx="503.3" cy="845.6" rx="93.6" ry="64" fill="#f83c98" filter="url(#b12)" opacity="0.75" />
<ellipse cx="451.5" cy="744.6" rx="96.1" ry="73.9" fill="#b078a8" filter="url(#b8)" opacity="0.85" />
<ellipse cx="436.7" cy="717.5" rx="64" ry="34.5" fill="#8c74a0" filter="url(#b8)" opacity="0.8" />
<ellipse cx="466.3" cy="653.4" rx="61.6" ry="44.3" fill="#c060b0" filter="url(#b12)" opacity="0.5" />
<ellipse cx="466.3" cy="784" rx="36.9" ry="19.7" fill="#8c6a8c" filter="url(#b8)" opacity="0.6" />
<ellipse cx="505.7" cy="771.7" rx="32" ry="19.7" fill="#f850a0" filter="url(#b5)" opacity="0.8" />
<ellipse cx="466.3" cy="636.2" rx="61.6" ry="36.9" fill="#d84ab0" filter="url(#b8)" opacity="0.5" />
<path d="M426.9 919.5C425.9 909.2 422.8 878.4 420.7 857.9C418.7 837.4 416.4 818.9 414.6 796.3C412.7 773.7 410.7 747 409.7 722.4C408.6 697.8 407.6 669 408.4 648.5C409.2 628 413.6 607.5 414.6 599.3" fill="none" stroke="#e4a0c8" stroke-width="2.6" stroke-linecap="round" stroke-linejoin="round" filter="url(#b1)" opacity="0.7"/>
<path d="M422 870.2C433.5 863.2 467.1 842.7 490.9 828.3C514.7 814 552.5 791.4 564.8 784" fill="none" stroke="#c83a68" stroke-width="4" stroke-linecap="round" stroke-linejoin="round" filter="url(#b2)" opacity="0.5"/>
<path d="M426.9 894.8C437.6 890.3 468.8 878 490.9 867.7C513.1 857.5 548.4 839 559.9 833.3" fill="none" stroke="#c83a68" stroke-width="4" stroke-linecap="round" stroke-linejoin="round" filter="url(#b2)" opacity="0.4"/>
<rect x="230" y="566" width="360" height="356" filter="url(#spark)" opacity="0.3"/></g></g><g filter="url(#soft)"><path d="M412.1 596.8C412.5 594.3 411.7 585.9 414.6 582C417.5 578.1 423.6 574.6 429.4 573.4C435.1 572.2 445.8 574.4 449.1 574.6" fill="none" stroke="#c888d0" stroke-width="3" stroke-linecap="round" stroke-linejoin="round" filter="url(#b1)" opacity="0.8"/><ellipse cx="460.1" cy="747" rx="19.2" ry="18.7" fill="#3a2a5a" filter="url(#b2)" opacity="0.5" /><ellipse cx="456.9" cy="744.6" rx="17.7" ry="16.7" fill="url(#gDisc)" /></g>
<g filter="url(#bumpB)"><path d="M717.8 577.1C722.3 576.3 730.9 579.6 737.5 582C744.1 584.5 749.8 588.2 757.2 591.9C764.6 595.6 773.6 600.9 781.8 604.2C790 607.5 799.9 608.3 806.5 611.6C813 614.9 815.5 619 821.2 623.9C827 628.8 833.5 637 840.9 641.1C848.3 645.2 858.2 645.2 865.6 648.5C873 651.8 879.5 655.9 885.3 660.8C891 665.8 895.1 672.3 900 678.1C905 683.8 910.3 689.6 914.8 695.3C919.3 701.1 923.9 706 927.1 712.6C930.4 719.1 932.5 726.9 934.5 734.7C936.6 742.5 937.8 752 939.5 759.4C941.1 766.7 944.4 772.1 944.4 779.1C944.4 786 941.9 794.3 939.5 801.2C937 808.2 933.7 814.8 929.6 820.9C925.5 827.1 920.6 833.3 914.8 838.2C909.1 843.1 902.5 846.4 895.1 850.5C887.7 854.6 878.7 858.7 870.5 862.8C862.3 866.9 854.1 871 845.9 875.1C837.7 879.2 828.2 883.3 821.2 887.4C814.3 891.5 807.3 894.8 804 899.8C800.7 904.7 804 913.7 801.5 917C799.1 920.3 792.9 921.9 789.2 919.5C785.5 917 784.7 904.7 779.4 902.2C774 899.8 765.8 903.9 757.2 904.7C748.6 905.5 737.5 907.1 727.6 907.1C717.8 907.1 707.9 906.7 698.1 904.7C688.2 902.6 677.1 898.9 668.5 894.8C659.9 890.7 651.7 886.2 646.4 880C641 873.9 641 864.4 636.5 857.9C632 851.3 624.6 846.8 619.3 840.6C613.9 834.5 608.2 828.3 604.5 820.9C600.8 813.5 598.9 805.3 597.1 796.3C595.2 787.3 593 775.8 593.4 766.7C593.8 757.7 596.9 750.3 599.6 742.1C602.2 733.9 605.3 725.3 609.4 717.5C613.5 709.7 620.5 703.5 624.2 695.3C627.9 687.1 627.9 676.4 631.6 668.2C635.3 660 640.2 653 646.4 646.1C652.5 639.1 661.5 632.1 668.5 626.4C675.5 620.6 682.9 616.5 688.2 611.6C693.6 606.7 696.8 600.9 700.5 596.8C704.2 592.7 707.5 590.2 710.4 586.9C713.3 583.7 713.3 577.9 717.8 577.1Z" fill="url(#gB2)"/><g clip-path="url(#cB2)"><ellipse cx="668.5" cy="759.4" rx="81.3" ry="110.8" fill="#cc38d0" filter="url(#b12)" opacity="0.6" />
<ellipse cx="717.8" cy="660.8" rx="49.3" ry="49.3" fill="#9c48a8" filter="url(#b12)" opacity="0.5" />
<ellipse cx="828.6" cy="697.8" rx="69" ry="61.6" fill="#a44098" filter="url(#b8)" opacity="0.8" />
<ellipse cx="853.3" cy="668.2" rx="29.6" ry="24.6" fill="#7c3c70" filter="url(#b8)" opacity="0.7" />
<ellipse cx="877.9" cy="853" rx="54.2" ry="22.2" fill="#7c3c74" filter="url(#b8)" transform="rotate(-30 877.9 853)" opacity="0.6" />
<ellipse cx="804" cy="808.6" rx="27.1" ry="39.4" fill="#f4409c" filter="url(#b8)" transform="rotate(30 804 808.6)" opacity="0.7" />
<ellipse cx="816.3" cy="796.3" rx="49.3" ry="61.6" fill="#ec48a4" filter="url(#b8)" opacity="0.7" />
<ellipse cx="895.1" cy="734.7" rx="39.4" ry="73.9" fill="#c83c98" filter="url(#b8)" opacity="0.6" />
<ellipse cx="767" cy="636.2" rx="54.2" ry="39.4" fill="#a048a0" filter="url(#b8)" opacity="0.75" />
<ellipse cx="811.4" cy="754.4" rx="32" ry="27.1" fill="#8c4a78" filter="url(#b8)" opacity="0.7" />
<ellipse cx="877.9" cy="833.3" rx="49.3" ry="29.6" fill="#a84a8c" filter="url(#b8)" opacity="0.6" />
<path d="M934.5 742.1C929.2 747 914 760.6 902.5 771.7C891 782.8 879.9 796.3 865.6 808.6C851.2 820.9 824.5 839.4 816.3 845.6" fill="none" stroke="#70306a" stroke-width="5" stroke-linecap="round" stroke-linejoin="round" filter="url(#b2)" opacity="0.75"/>
<path d="M877.9 825.9C871.7 830.4 853.3 844.3 840.9 853C828.6 861.6 810.1 873.5 804 877.6" fill="none" stroke="#70306a" stroke-width="6" stroke-linecap="round" stroke-linejoin="round" filter="url(#b2)" opacity="0.6"/>
<path d="M727.6 589.4C730.1 595.2 737.5 609.9 742.4 623.9C747.3 637.8 754.7 664.9 757.2 673.2" fill="none" stroke="#74488c" stroke-width="7" stroke-linecap="round" stroke-linejoin="round" filter="url(#b2)" opacity="0.7"/>
<path d="M828.6 648.5C831.9 651.8 843.4 660 848.3 668.2C853.3 676.4 856.5 692.9 858.2 697.8" fill="none" stroke="#74386a" stroke-width="7" stroke-linecap="round" stroke-linejoin="round" filter="url(#b3)" opacity="0.65"/>
<path d="M794.1 914.5C791.7 905.1 783.9 879.6 779.4 857.9C774.8 836.1 770.3 808.6 767 784C763.8 759.4 761.3 730.6 759.7 710.1C758 689.6 757.6 669 757.2 660.8" fill="none" stroke="#e884b4" stroke-width="3" stroke-linecap="round" stroke-linejoin="round" filter="url(#b1)" opacity="0.7"/>
<rect x="588" y="566" width="360" height="356" filter="url(#spark)" opacity="0.28"/></g></g><g filter="url(#soft)"><path d="M727.6 586.9C726 584.9 720.7 575.5 717.8 574.6C714.9 573.8 710.4 580 710.4 582C710.4 584.1 716.6 586.1 717.8 586.9" fill="none" stroke="#b888d8" stroke-width="2.5" stroke-linecap="round" stroke-linejoin="round" filter="url(#b1)" opacity="0.8"/><ellipse cx="824.9" cy="747" rx="20.7" ry="20.7" fill="#4a2a58" filter="url(#b3)" opacity="0.6" /><ellipse cx="823.7" cy="745.8" rx="14.3" ry="14.3" fill="url(#gDisc)" /></g>
<g filter="url(#bumpB3)"><path d="M1090.1 569.7C1095 568.9 1100.4 574.6 1107.3 577.1C1114.3 579.6 1123.8 581.2 1132 584.5C1140.2 587.8 1148.4 592.7 1156.6 596.8C1164.8 600.9 1173 604.6 1181.2 609.1C1189.4 613.6 1198.5 618.6 1205.9 623.9C1213.3 629.2 1219.4 635 1225.6 641.1C1231.7 647.3 1237.5 653.9 1242.8 660.8C1248.1 667.8 1253.1 676 1257.6 683C1262.1 690 1265.8 696.1 1269.9 702.7C1274 709.3 1278.5 715.4 1282.2 722.4C1285.9 729.4 1289.6 737.2 1292.1 744.6C1294.5 752 1296.6 758.9 1297 766.7C1297.4 774.5 1295.8 783.2 1294.5 791.4C1293.3 799.6 1290.8 807.8 1289.6 816C1288.4 824.2 1288.8 832.8 1287.1 840.6C1285.5 848.4 1283 855.8 1279.8 862.8C1276.5 869.8 1272.8 876.8 1267.4 882.5C1262.1 888.3 1254.7 893.2 1247.7 897.3C1240.8 901.4 1232.5 904.7 1225.6 907.1C1218.6 909.6 1212.4 912.5 1205.9 912.1C1199.3 911.7 1193.1 906.3 1186.2 904.7C1179.2 903 1171.4 901.8 1164 902.2C1156.6 902.6 1146.7 903.9 1141.8 907.1C1136.9 910.4 1138.5 919.5 1134.4 921.9C1130.3 924.4 1120.9 924.8 1117.2 921.9C1113.5 919 1116.8 908.8 1112.3 904.7C1107.8 900.6 1098.3 898.9 1090.1 897.3C1081.9 895.6 1072.4 895.2 1063 894.8C1053.6 894.4 1042.5 896.1 1033.4 894.8C1024.4 893.6 1016.2 891.1 1008.8 887.4C1001.4 883.7 995.3 878.8 989.1 872.7C983 866.5 976.4 858.3 971.9 850.5C967.4 842.7 964.7 834.9 962 825.9C959.4 816.8 956.7 806.2 955.9 796.3C955 786.5 956.1 775.8 957.1 766.7C958.1 757.7 960 750.3 962 742.1C964.1 733.9 966.5 725.7 969.4 717.5C972.3 709.3 975.6 701.1 979.3 692.9C983 684.6 987.1 676 991.6 668.2C996.1 660.4 1001 653 1006.4 646.1C1011.7 639.1 1017.4 632.1 1023.6 626.4C1029.8 620.6 1036.7 616.5 1043.3 611.6C1049.9 606.7 1057.3 601.7 1063 596.8C1068.8 591.9 1073.3 586.5 1077.8 582C1082.3 577.5 1085.2 570.5 1090.1 569.7Z" fill="url(#gB3)"/><g clip-path="url(#cB3)"><ellipse cx="1003.9" cy="747" rx="61.6" ry="123.2" fill="#ec34d0" filter="url(#b12)" opacity="0.6" />
<ellipse cx="1237.9" cy="870.2" rx="93.6" ry="49.3" fill="#f83c98" filter="url(#b8)" opacity="0.8" />
<ellipse cx="1077.8" cy="882.5" rx="73.9" ry="29.6" fill="#f840a8" filter="url(#b8)" opacity="0.6" />
<path d="M1102.4 633.7C1118.8 628 1145.5 626.8 1164 631.3C1182.5 635.8 1197.7 649.8 1213.3 660.8C1228.9 671.9 1247.3 683.4 1257.6 697.8C1267.8 712.2 1272 730.6 1274.8 747C1277.7 763.5 1278.9 781.9 1274.8 796.3C1270.7 810.7 1262.5 822.2 1250.2 833.3C1237.9 844.3 1221.5 856.7 1200.9 862.8C1180.4 869 1145.5 872.2 1127 870.2C1108.6 868.1 1103.2 862.8 1090.1 850.5C1077 838.2 1056.8 817.7 1048.2 796.3C1039.6 775 1035.5 744.2 1038.4 722.4C1041.2 700.7 1054.8 680.5 1065.5 665.8C1076.1 651 1086 639.5 1102.4 633.7Z" fill="#8c6cac" filter="url(#b4)" opacity="0.96"/>
<ellipse cx="1122.1" cy="717.5" rx="73.9" ry="61.6" fill="#7a5ca0" filter="url(#b12)" opacity="0.7" />
<ellipse cx="1225.6" cy="771.7" rx="44.3" ry="54.2" fill="#a074a8" filter="url(#b12)" opacity="0.55" />
<ellipse cx="1164" cy="833.3" rx="61.6" ry="24.6" fill="#9470a0" filter="url(#b8)" opacity="0.5" />
<path d="M1125.8 919.5C1124.8 909.2 1120.9 878.4 1119.7 857.9C1118.4 837.4 1119.2 818.9 1118.4 796.3C1117.6 773.7 1116.6 747 1114.7 722.4C1112.9 697.8 1108.6 660.8 1107.3 648.5" fill="none" stroke="#d0b0d0" stroke-width="2.5" stroke-linecap="round" stroke-linejoin="round" filter="url(#b1)" opacity="0.75"/>
<path d="M1119.7 825.9C1112.7 818.9 1090.9 801.2 1077.8 784C1064.6 766.7 1047 732.7 1040.8 722.4" fill="none" stroke="#c8a0c0" stroke-width="2" stroke-linecap="round" stroke-linejoin="round" filter="url(#b1)" opacity="0.6"/>
<path d="M1124.6 870.2C1133.2 862 1157.4 841.5 1176.3 820.9C1195.2 800.4 1224.3 767.6 1237.9 747C1251.4 726.5 1254.3 706 1257.6 697.8" fill="none" stroke="#c8a0c0" stroke-width="2" stroke-linecap="round" stroke-linejoin="round" filter="url(#b1)" opacity="0.5"/>
<rect x="947" y="566" width="360" height="356" filter="url(#spark)" opacity="0.18"/></g></g><g filter="url(#soft)"><ellipse cx="1156.1" cy="759.9" rx="21.2" ry="18.7" fill="#22263e" filter="url(#b2)" opacity="0.65" /><ellipse cx="1152.9" cy="756.9" rx="17.7" ry="16.3" fill="url(#gDisc)" /></g>
</g>
<g filter="url(#soft)">
<rect x="226.8" y="1155.3" width="1095.7" height="376.6" fill="#0d0c0f"/>
<rect x="600" y="1155.3" width="359" height="376.6" fill="#0f0e11"/>
<rect x="600" y="1155.3" width="359" height="4" fill="#48484a"/>
<rect x="959" y="1155.3" width="363.5" height="376.6" fill="#120d14"/>
</g>
<g clip-path="url(#pD)">
<g filter="url(#bumpD)"><path d="M440.4 1156C443.7 1157.2 445.9 1168.1 449 1174.5C452.1 1180.8 454.3 1188 458.8 1194.2C463.4 1200.3 469.5 1206.1 476.1 1211.4C482.7 1216.8 490 1221.3 498.3 1226.2C506.5 1231.1 517.1 1236.1 525.3 1241C533.6 1245.9 542.2 1250.4 547.5 1255.8C552.8 1261.1 557.4 1266.8 557.4 1273C557.4 1279.2 550 1286.1 547.5 1292.7C545 1299.3 541.8 1305.8 542.6 1312.4C543.4 1319 547.9 1326 552.4 1332.1C557 1338.3 564.3 1343.6 569.7 1349.4C575 1355.1 581.2 1360.4 584.5 1366.6C587.7 1372.8 589.4 1378.9 589.4 1386.3C589.4 1393.7 586.5 1402.7 584.5 1410.9C582.4 1419.1 578.7 1427.4 577.1 1435.6C575.4 1443.8 575.8 1452.8 574.6 1460.2C573.4 1467.6 573 1474.2 569.7 1479.9C566.4 1485.6 560.6 1490.6 554.9 1494.7C549.2 1498.8 542.6 1502.1 535.2 1504.5C527.8 1507 518.8 1508.6 510.6 1509.5C502.4 1510.3 494.1 1509.5 485.9 1509.5C477.7 1509.5 467.9 1509 461.3 1509.5C454.7 1509.9 449.6 1508.4 446.5 1511.9C443.4 1515.4 446.3 1527.3 442.8 1530.4C439.3 1533.5 429.1 1533.5 425.6 1530.4C422.1 1527.3 425.8 1515.4 421.9 1511.9C418 1508.4 410.4 1509.9 402.2 1509.5C394 1509 382.5 1509.9 372.6 1509.5C362.8 1509 352.9 1507.8 343.1 1507C333.2 1506.2 322.6 1507.4 313.5 1504.5C304.5 1501.7 296.3 1495.5 288.9 1489.8C281.5 1484 274.9 1477.4 269.2 1470C263.4 1462.7 258.5 1454.4 254.4 1445.4C250.3 1436.4 246.8 1425.7 244.6 1415.9C242.3 1406 240.9 1396.2 240.9 1386.3C240.9 1376.5 242.3 1365.8 244.6 1356.7C246.8 1347.7 250.3 1339.5 254.4 1332.1C258.5 1324.7 266.3 1319 269.2 1312.4C272.1 1305.8 272.1 1299.3 271.7 1292.7C271.2 1286.1 265.5 1280.4 266.7 1273C268 1265.6 273.7 1255.4 279 1248.4C284.4 1241.4 291.4 1235.6 298.7 1231.1C306.1 1226.6 316 1223.3 323.4 1221.3C330.8 1219.2 336.5 1221.3 343.1 1218.8C349.6 1216.4 355.4 1210.6 362.8 1206.5C370.2 1202.4 379.2 1198.3 387.4 1194.2C395.6 1190.1 405.1 1186.4 412 1181.9C419 1177.4 424.6 1171.4 429.3 1167.1C434 1162.8 437.1 1154.8 440.4 1156Z" fill="url(#gD)"/><g clip-path="url(#cD1)"><ellipse cx="436.7" cy="1287.8" rx="93.6" ry="73.9" fill="#58bc80" filter="url(#b12)" opacity="0.45" />
<ellipse cx="498.3" cy="1460.2" rx="78.8" ry="49.3" fill="#50b878" filter="url(#b12)" opacity="0.45" />
<ellipse cx="338.2" cy="1472.5" rx="78.8" ry="39.4" fill="#64c08c" filter="url(#b12)" opacity="0.5" />
<ellipse cx="301.2" cy="1263.2" rx="36.9" ry="49.3" fill="#1a983c" filter="url(#b8)" opacity="0.6" />
<ellipse cx="535.2" cy="1337" rx="36.9" ry="61.6" fill="#22a048" filter="url(#b8)" opacity="0.5" />
<ellipse cx="348" cy="1382.6" rx="48" ry="45.6" fill="#74827c" filter="url(#b3)" opacity="0.94" />
<ellipse cx="345.5" cy="1386.3" rx="29.6" ry="29.6" fill="#626e6c" filter="url(#b5)" opacity="0.6" />
<path d="M434.2 1529.2C433.6 1517.7 431.5 1484 430.5 1460.2C429.5 1436.4 429.1 1415 428.1 1386.3C427 1357.6 423.7 1316.5 424.4 1287.8C425 1259 429.1 1235.2 431.7 1213.9C434.4 1192.5 438.9 1168.7 440.4 1159.7" fill="none" stroke="#9cd8a8" stroke-width="3" stroke-linecap="round" stroke-linejoin="round" filter="url(#b1)" opacity="0.8"/>
<path d="M429.3 1418.3C422.3 1413 402.6 1400.7 387.4 1386.3C372.2 1371.9 346.4 1341.1 338.2 1332.1" fill="none" stroke="#8ccc9c" stroke-width="2.5" stroke-linecap="round" stroke-linejoin="round" filter="url(#b1)" opacity="0.6"/>
<path d="M430.5 1418.3C439.8 1408.9 469.3 1379.3 485.9 1361.7C502.6 1344 522.9 1320.6 530.3 1312.4" fill="none" stroke="#8ccc9c" stroke-width="2.5" stroke-linecap="round" stroke-linejoin="round" filter="url(#b1)" opacity="0.6"/>
<path d="M431.7 1489.8C422.3 1484.8 394 1468 375.1 1460.2C356.2 1452.4 327.9 1445.8 318.4 1443" fill="none" stroke="#8ccc9c" stroke-width="2.5" stroke-linecap="round" stroke-linejoin="round" filter="url(#b1)" opacity="0.6"/>
<path d="M433 1489.8C441.8 1482.8 466.8 1459.8 485.9 1447.9C505 1436 537.2 1423.3 547.5 1418.3" fill="none" stroke="#8ccc9c" stroke-width="2.5" stroke-linecap="round" stroke-linejoin="round" filter="url(#b1)" opacity="0.6"/></g></g><g filter="url(#soft)"><ellipse cx="336.9" cy="1377.7" rx="13.8" ry="13.8" fill="#cfc6b6" /><ellipse cx="336.2" cy="1376.9" rx="7.4" ry="7.4" fill="#e2dacb" filter="url(#b2)" opacity="0.8" /><path d="M434.2 1531.6C433.8 1527.1 432.2 1509 431.7 1504.5" fill="none" stroke="#84c878" stroke-width="7" stroke-linecap="round" stroke-linejoin="round" filter="url(#b1)" opacity="0.9"/></g>
<g filter="url(#bumpD)"><path d="M768.4 1169.6C771.3 1170.4 776.4 1178.6 782 1181.9C787.5 1185.2 794.3 1186 801.7 1189.3C809.1 1192.5 818.1 1197.1 826.3 1201.6C834.5 1206.1 843.1 1211.4 850.9 1216.4C858.7 1221.3 866.5 1225.4 873.1 1231.1C879.7 1236.9 885.8 1243.9 890.3 1250.8C894.9 1257.8 897.3 1266 900.2 1273C903.1 1280 903.9 1286.1 907.6 1292.7C911.3 1299.3 917.8 1305.8 922.4 1312.4C926.9 1319 931.4 1325.1 934.7 1332.1C938 1339.1 939.6 1346.1 942.1 1354.3C944.5 1362.5 949 1372.8 949.5 1381.4C949.9 1390 945.8 1397.8 944.5 1406C943.3 1414.2 942.5 1422.4 942.1 1430.6C941.7 1438.9 943.3 1447.9 942.1 1455.3C940.8 1462.7 938.4 1469.2 934.7 1475C931 1480.7 925.6 1485.2 919.9 1489.8C914.2 1494.3 907.6 1498.8 900.2 1502.1C892.8 1505.4 883.8 1507.8 875.6 1509.5C867.4 1511.1 859.1 1511.9 850.9 1511.9C842.7 1511.9 834.5 1509.9 826.3 1509.5C818.1 1509 808.2 1508.2 801.7 1509.5C795.1 1510.7 789.8 1513.4 786.9 1516.8C784 1520.3 787.7 1528.1 784.4 1530.4C781.1 1532.7 770.9 1533.5 767.2 1530.4C763.5 1527.3 766.4 1516.2 762.3 1511.9C758.2 1507.6 750 1506.2 742.6 1504.5C735.2 1502.9 727 1503.3 717.9 1502.1C708.9 1500.8 697.8 1500 688.4 1497.1C678.9 1494.3 669.5 1489.8 661.3 1484.8C653.1 1479.9 646.1 1474.2 639.1 1467.6C632.1 1461 624.7 1453.2 619.4 1445.4C614.1 1437.6 609.8 1429.8 607.1 1420.8C604.4 1411.8 603.8 1401.1 603.4 1391.2C603 1381.4 603.2 1371.5 604.6 1361.7C606.1 1351.8 610 1342 612 1332.1C614.1 1322.3 614.9 1311.6 616.9 1302.6C619 1293.5 620.6 1285.7 624.3 1277.9C628 1270.1 633.4 1262.7 639.1 1255.8C644.9 1248.8 651.4 1242.2 658.8 1236.1C666.2 1229.9 675.2 1224.2 683.4 1218.8C691.7 1213.5 699.9 1208.1 708.1 1204C716.3 1199.9 724.9 1197.1 732.7 1194.2C740.5 1191.3 749.5 1189.7 754.9 1186.8C760.2 1183.9 762.5 1179.8 764.7 1176.9C767 1174.1 765.6 1168.7 768.4 1169.6Z" fill="url(#gD)"/><g clip-path="url(#cD2)"><ellipse cx="777" cy="1287.8" rx="103.4" ry="73.9" fill="#58c07c" filter="url(#b12)" opacity="0.45" />
<ellipse cx="850.9" cy="1460.2" rx="78.8" ry="49.3" fill="#5cc484" filter="url(#b12)" opacity="0.45" />
<ellipse cx="678.5" cy="1472.5" rx="78.8" ry="39.4" fill="#68c890" filter="url(#b12)" opacity="0.5" />
<ellipse cx="912.5" cy="1361.7" rx="29.6" ry="61.6" fill="#26a44a" filter="url(#b8)" opacity="0.5" />
<ellipse cx="693.3" cy="1376.5" rx="49.3" ry="53" fill="#9a9c84" filter="url(#b2)" opacity="0.9" />
<ellipse cx="693.3" cy="1376.5" rx="42.4" ry="46.3" fill="#78828a" filter="url(#b3)" opacity="0.96" />
<path d="M775.8 1529.2C775.6 1517.7 774.8 1484 774.6 1460.2C774.4 1436.4 774.6 1415 774.6 1386.3C774.6 1357.6 775.4 1323.1 774.6 1287.8C773.8 1252.5 770.5 1193.4 769.7 1174.5" fill="none" stroke="#b0e0b4" stroke-width="3" stroke-linecap="round" stroke-linejoin="round" filter="url(#b1)" opacity="0.8"/>
<path d="M774.6 1418.3C767.6 1410.9 746.7 1389.6 732.7 1374C718.8 1358.4 697.8 1332.9 690.8 1324.7" fill="none" stroke="#98d4a4" stroke-width="2.5" stroke-linecap="round" stroke-linejoin="round" filter="url(#b1)" opacity="0.55"/>
<path d="M775.8 1418.3C784.2 1408.9 809.7 1379.3 826.3 1361.7C842.9 1344 867.4 1320.6 875.6 1312.4" fill="none" stroke="#98d4a4" stroke-width="2.5" stroke-linecap="round" stroke-linejoin="round" filter="url(#b1)" opacity="0.55"/>
<path d="M774.6 1497.1C766.8 1491.4 743 1472.9 727.8 1462.7C712.6 1452.4 690.8 1440.1 683.4 1435.6" fill="none" stroke="#98d4a4" stroke-width="2.5" stroke-linecap="round" stroke-linejoin="round" filter="url(#b1)" opacity="0.55"/>
<path d="M777 1497.1C789.4 1488.1 828.4 1459.4 850.9 1443C873.5 1426.5 902.2 1406 912.5 1398.6" fill="none" stroke="#98d4a4" stroke-width="2.5" stroke-linecap="round" stroke-linejoin="round" filter="url(#b1)" opacity="0.55"/></g></g><g filter="url(#soft)"><ellipse cx="694.5" cy="1371.5" rx="9.9" ry="9.9" fill="#c2bea0" /><ellipse cx="695.3" cy="1371" rx="4.4" ry="3.9" fill="#a8a68c" filter="url(#b1)" opacity="0.8" /><path d="M775.8 1531.6C775.6 1527.1 774.8 1509 774.6 1504.5" fill="none" stroke="#a0d494" stroke-width="7" stroke-linecap="round" stroke-linejoin="round" filter="url(#b1)" opacity="0.9"/></g>
<g filter="url(#bumpD)"><path d="M1100.1 1169.6C1101.3 1168.7 1112.4 1173.3 1119.8 1174.5C1127.2 1175.7 1136.2 1175.7 1144.4 1176.9C1152.6 1178.2 1160.9 1179 1169.1 1181.9C1177.3 1184.7 1185.5 1189.7 1193.7 1194.2C1201.9 1198.7 1210.5 1203.6 1218.3 1209C1226.1 1214.3 1233.5 1220 1240.5 1226.2C1247.5 1232.4 1254 1239.3 1260.2 1245.9C1266.4 1252.5 1272.9 1259 1277.4 1265.6C1282 1272.2 1284.4 1278.3 1287.3 1285.3C1290.2 1292.3 1291.8 1300.5 1294.7 1307.5C1297.6 1314.5 1302.1 1320.2 1304.5 1327.2C1307 1334.2 1309 1341.6 1309.5 1349.4C1309.9 1357.2 1307.8 1365.8 1307 1374C1306.2 1382.2 1305.4 1390.4 1304.5 1398.6C1303.7 1406.8 1303.3 1415 1302.1 1423.3C1300.8 1431.5 1299.2 1440.1 1297.1 1447.9C1295.1 1455.7 1293 1463.1 1289.8 1470C1286.5 1477 1282.8 1484.4 1277.4 1489.8C1272.1 1495.1 1264.7 1498.8 1257.7 1502.1C1250.8 1505.4 1243.4 1507.8 1235.6 1509.5C1227.8 1511.1 1219.1 1511.9 1210.9 1511.9C1202.7 1511.9 1194.5 1509.9 1186.3 1509.5C1178.1 1509 1168.7 1508.6 1161.7 1509.5C1154.7 1510.3 1148.5 1510.9 1144.4 1514.4C1140.3 1517.9 1140.9 1527.7 1137 1530.4C1133.1 1533.1 1124.3 1533.9 1121 1530.4C1117.8 1526.9 1121.2 1513.4 1117.3 1509.5C1113.4 1505.6 1105 1507.8 1097.6 1507C1090.2 1506.2 1081.2 1504.5 1073 1504.5C1064.8 1504.5 1056.2 1508.2 1048.4 1507C1040.6 1505.8 1033.2 1501.7 1026.2 1497.1C1019.2 1492.6 1012.7 1486.1 1006.5 1479.9C1000.3 1473.7 994.6 1467.6 989.3 1460.2C983.9 1452.8 978.4 1444.2 974.5 1435.6C970.6 1426.9 967.5 1417.5 965.9 1408.5C964.2 1399.4 964 1390 964.6 1381.4C965.2 1372.8 967.1 1365 969.6 1356.7C972 1348.5 976.1 1340.3 979.4 1332.1C982.7 1323.9 985.6 1315.7 989.3 1307.5C993 1299.3 997.1 1291.1 1001.6 1282.9C1006.1 1274.6 1011 1266 1016.4 1258.2C1021.7 1250.4 1027.4 1243 1033.6 1236.1C1039.8 1229.1 1046.3 1222.5 1053.3 1216.4C1060.3 1210.2 1068.1 1204 1075.5 1199.1C1082.9 1194.2 1091.5 1190.1 1097.6 1186.8C1103.8 1183.5 1112 1182.3 1112.4 1179.4C1112.8 1176.5 1098.9 1170.4 1100.1 1169.6Z" fill="url(#gD3)"/><g clip-path="url(#cD3)"><ellipse cx="1100.1" cy="1300.1" rx="61.6" ry="73.9" fill="#80d490" filter="url(#b12)" opacity="0.55" />
<ellipse cx="1235.6" cy="1361.7" rx="61.6" ry="86.2" fill="#70d084" filter="url(#b12)" opacity="0.5" />
<ellipse cx="1038.5" cy="1472.5" rx="78.8" ry="39.4" fill="#7cd494" filter="url(#b12)" opacity="0.6" />
<ellipse cx="994.2" cy="1374" rx="32" ry="32" fill="#1a9c34" filter="url(#b8)" opacity="0.65" />
<ellipse cx="1186.3" cy="1447.9" rx="49.3" ry="36.9" fill="#1fa03c" filter="url(#b8)" opacity="0.5" />
<ellipse cx="1124.7" cy="1213.9" rx="14.8" ry="49.3" fill="#22a03c" filter="url(#b8)" opacity="0.5" />
<path d="M1073 1342C1083.7 1341.1 1094.4 1349.4 1102.6 1356.7C1110.8 1364.1 1118.6 1375.2 1122.3 1386.3C1126 1397.4 1126.4 1412.6 1124.7 1423.3C1123.1 1433.9 1118.6 1443.8 1112.4 1450.3C1106.3 1456.9 1098 1461.4 1087.8 1462.7C1077.5 1463.9 1061.5 1461.4 1050.8 1457.7C1040.2 1454 1029.9 1448.3 1023.7 1440.5C1017.6 1432.7 1015.1 1420 1013.9 1410.9C1012.7 1401.9 1012.2 1394.5 1016.4 1386.3C1020.5 1378.1 1029.1 1369.1 1038.5 1361.7C1048 1354.3 1062.3 1342.8 1073 1342Z" fill="#868c8e" filter="url(#b3)" opacity="0.96"/>
<ellipse cx="1077.9" cy="1410.9" rx="36.9" ry="41.9" fill="#9ca0a4" filter="url(#b5)" opacity="0.6" />
<ellipse cx="1038.5" cy="1381.4" rx="22.2" ry="17.2" fill="#6a7470" filter="url(#b5)" opacity="0.6" />
<path d="M1128.4 1529.2C1129.4 1517.7 1132.7 1484 1134.6 1460.2C1136.4 1436.4 1138.7 1415 1139.5 1386.3C1140.3 1357.6 1142.8 1321.9 1139.5 1287.8C1136.2 1253.7 1123.1 1199.5 1119.8 1181.9" fill="none" stroke="#b0e8b8" stroke-width="3" stroke-linecap="round" stroke-linejoin="round" filter="url(#b1)" opacity="0.7"/>
<path d="M1137 1435.6C1131.3 1425.3 1114.1 1394.5 1102.6 1374C1091.1 1353.5 1073.8 1322.7 1068.1 1312.4" fill="none" stroke="#2aa045" stroke-width="3" stroke-linecap="round" stroke-linejoin="round" filter="url(#b2)" opacity="0.4"/>
<path d="M1138.3 1435.6C1146.3 1425.3 1170.1 1392.5 1186.3 1374C1202.5 1355.5 1227.4 1332.9 1235.6 1324.7" fill="none" stroke="#2aa045" stroke-width="3" stroke-linecap="round" stroke-linejoin="round" filter="url(#b2)" opacity="0.4"/>
<path d="M1134.6 1492.2C1126.8 1488.1 1103.8 1475 1087.8 1467.6C1071.8 1460.2 1046.7 1451.2 1038.5 1447.9" fill="none" stroke="#2aa045" stroke-width="3" stroke-linecap="round" stroke-linejoin="round" filter="url(#b2)" opacity="0.4"/></g></g><g filter="url(#soft)"><ellipse cx="1065.6" cy="1401.1" rx="11.8" ry="11.3" fill="#a2a88a" /><ellipse cx="1066.1" cy="1400.6" rx="5.4" ry="4.9" fill="#8c9478" filter="url(#b1)" opacity="0.8" /><path d="M1129.2 1531.6C1129.4 1527.1 1130.6 1509 1130.9 1504.5" fill="none" stroke="#90d888" stroke-width="7" stroke-linecap="round" stroke-linejoin="round" filter="url(#b1)" opacity="0.9"/></g>
</g>
</g>
<g id="labels">
<text x="31" y="255" font-size="110" font-family='"Liberation Serif", "DejaVu Serif", serif' textLength="140" lengthAdjust="spacingAndGlyphs" stroke="#000" stroke-width="0.9">(a)</text>
<text x="27" y="643" font-size="114" font-family='"Liberation Serif", "DejaVu Serif", serif' textLength="148" lengthAdjust="spacingAndGlyphs" stroke="#000" stroke-width="0.9">(b)</text>
<text x="1398" y="236" font-size="108" font-family='"Liberation Serif", "DejaVu Serif", serif' textLength="137" lengthAdjust="spacingAndGlyphs" stroke="#000" stroke-width="2.2">(c)</text>
<text x="26" y="1254" font-size="114" font-family='"Liberation Serif", "DejaVu Serif", serif' textLength="146" lengthAdjust="spacingAndGlyphs" stroke="#000" stroke-width="0.9">(d)</text>
<text x="1388" y="980" font-size="112" font-family='"Liberation Serif", "DejaVu Serif", serif' textLength="136" lengthAdjust="spacingAndGlyphs" stroke="#000" stroke-width="0.9">(e)</text>
<text x="41" y="1741" font-size="100" font-family='"Liberation Serif", "DejaVu Serif", serif' textLength="111" lengthAdjust="spacingAndGlyphs" stroke="#000" stroke-width="0.9">(f)</text>
<text x="1127" y="1722" font-size="100" font-family='"Liberation Serif", "DejaVu Serif", serif' textLength="132" lengthAdjust="spacingAndGlyphs" stroke="#000" stroke-width="0.9">(g)</text>
<text x="30" y="2470" font-size="104" font-family='"Liberation Serif", "DejaVu Serif", serif' textLength="140" lengthAdjust="spacingAndGlyphs" stroke="#000" stroke-width="0.9">(h)</text>
<text x="1162" y="2470" font-size="104" font-family='"Liberation Serif", "DejaVu Serif", serif' textLength="98" lengthAdjust="spacingAndGlyphs" stroke="#000" stroke-width="0.9">(i)</text>
<text transform="translate(367 163) scale(1.18 1.0) rotate(-30)" font-size="62" font-family='"Liberation Serif", "DejaVu Serif", serif' font-weight="bold" letter-spacing="2.2">IiR515</text>
<text transform="translate(709 163) scale(1.18 1.0) rotate(-30)" font-size="62" font-family='"Liberation Serif", "DejaVu Serif", serif' font-weight="bold" letter-spacing="2.2">IiR915</text>
<text transform="translate(1082 164) scale(1.18 1.0) rotate(-30)" font-size="62" font-family='"Liberation Serif", "DejaVu Serif", serif' font-weight="bold" letter-spacing="2.2">WB800-e</text>
<text transform="matrix(0.9980 -0.5150 0.4460 0.8950 269 1154)" font-size="60" font-family='"Liberation Serif", "DejaVu Serif", serif' font-weight="bold" letter-spacing="0.8">TRV<tspan font-size="32" dx="0" dy="3">2</tspan><tspan dy="-3">-IiR515</tspan></text>
<text transform="matrix(0.9980 -0.5150 0.4460 0.8950 633 1154)" font-size="60" font-family='"Liberation Serif", "DejaVu Serif", serif' font-weight="bold" letter-spacing="0.8">TRV<tspan font-size="32" dx="0" dy="3">2</tspan><tspan dy="-3">-IiR915</tspan></text>
<text transform="matrix(0.9980 -0.5150 0.4460 0.8950 1091 1150)" font-size="60" font-family='"Liberation Serif", "DejaVu Serif", serif' font-weight="bold" letter-spacing="0.8">TRV<tspan font-size="32" dx="0" dy="3">2</tspan><tspan dy="-3"></tspan></text>
</g>
<g id="chart-c"><rect x="1716" y="309.4" width="171.6" height="284.6" fill="#606060" />
<line x1="1801" y1="233.3" x2="1801" y2="309.4" stroke="#6e6e6e" stroke-width="2" />
<line x1="1759" y1="233.3" x2="1844.5" y2="233.3" stroke="#6e6e6e" stroke-width="2" />
<line x1="1801" y1="309.4" x2="1801" y2="387.1" stroke="#262626" stroke-width="2" />
<line x1="1759" y1="387.1" x2="1844.5" y2="387.1" stroke="#262626" stroke-width="2" />
<text x="1803" y="222" font-size="38" font-family='"Liberation Serif", "DejaVu Serif", serif' text-anchor="middle" fill="#6a6a6a" letter-spacing="6">**</text>
<rect x="1972.4" y="204.5" width="173.4" height="389.5" fill="#606060" />
<line x1="2059.5" y1="143.5" x2="2059.5" y2="204.5" stroke="#6e6e6e" stroke-width="2" />
<line x1="2016.7" y1="143.5" x2="2102" y2="143.5" stroke="#6e6e6e" stroke-width="2" />
<line x1="2059.5" y1="204.5" x2="2059.5" y2="266.3" stroke="#262626" stroke-width="2" />
<line x1="2016.7" y1="266.3" x2="2102" y2="266.3" stroke="#262626" stroke-width="2" />
<text x="2062" y="137" font-size="38" font-family='"Liberation Serif", "DejaVu Serif", serif' text-anchor="middle" fill="#6a6a6a" letter-spacing="6">**</text>
<line x1="1672.5" y1="89.2" x2="1672.5" y2="596.3" stroke="#000" stroke-width="4.6" />
<line x1="1663.2" y1="594" x2="2189.3" y2="594" stroke="#000" stroke-width="4.6" />
<line x1="1663.2" y1="523.6" x2="1672.5" y2="523.6" stroke="#000" stroke-width="3.6" />
<line x1="1663.2" y1="451.3" x2="1672.5" y2="451.3" stroke="#000" stroke-width="3.6" />
<line x1="1663.2" y1="379.6" x2="1672.5" y2="379.6" stroke="#000" stroke-width="3.6" />
<line x1="1663.2" y1="306.2" x2="1672.5" y2="306.2" stroke="#000" stroke-width="3.6" />
<line x1="1663.2" y1="237.6" x2="1672.5" y2="237.6" stroke="#000" stroke-width="3.6" />
<line x1="1663.2" y1="164.2" x2="1672.5" y2="164.2" stroke="#000" stroke-width="3.6" />
<line x1="1663.2" y1="91" x2="1672.5" y2="91" stroke="#000" stroke-width="3.6" />
<line x1="1801" y1="594" x2="1801" y2="601.3" stroke="#000" stroke-width="3.6" />
<line x1="2059.5" y1="594" x2="2059.5" y2="601.3" stroke="#000" stroke-width="3.6" />
<text x="1658" y="607.5" font-size="40" font-family='"Liberation Serif", "DejaVu Serif", serif' font-weight="bold" text-anchor="end">0</text>
<text x="1658" y="537.1" font-size="40" font-family='"Liberation Serif", "DejaVu Serif", serif' font-weight="bold" text-anchor="end">5</text>
<text x="1658" y="464.8" font-size="40" font-family='"Liberation Serif", "DejaVu Serif", serif' font-weight="bold" text-anchor="end">10</text>
<text x="1658" y="393.1" font-size="40" font-family='"Liberation Serif", "DejaVu Serif", serif' font-weight="bold" text-anchor="end">15</text>
<text x="1658" y="319.7" font-size="40" font-family='"Liberation Serif", "DejaVu Serif", serif' font-weight="bold" text-anchor="end">20</text>
<text x="1658" y="251.1" font-size="40" font-family='"Liberation Serif", "DejaVu Serif", serif' font-weight="bold" text-anchor="end">25</text>
<text x="1658" y="177.7" font-size="40" font-family='"Liberation Serif", "DejaVu Serif", serif' font-weight="bold" text-anchor="end">30</text>
<text x="1658" y="104.5" font-size="40" font-family='"Liberation Serif", "DejaVu Serif", serif' font-weight="bold" text-anchor="end">35</text></g>
<g id="chart-e"><path d="M1705.6 1374 V1039.9 Q1705.6 1035.9 1709.6 1035.9 H1888 Q1892 1035.9 1892 1039.9 V1374 Z" fill="#606060"/>
<line x1="1799" y1="984" x2="1799" y2="1035.9" stroke="#222" stroke-width="2" />
<line x1="1754" y1="984" x2="1843" y2="984" stroke="#222" stroke-width="2" />
<line x1="1799" y1="1035.9" x2="1799" y2="1092.2" stroke="#1c1c1c" stroke-width="2" />
<line x1="1754" y1="1092.2" x2="1843" y2="1092.2" stroke="#1c1c1c" stroke-width="2" />
<text x="1802" y="971" font-size="38" font-family='"Liberation Serif", "DejaVu Serif", serif' text-anchor="middle" fill="#6a6a6a" letter-spacing="6">**</text>
<path d="M1965 1374 V1062.4 Q1965 1058.4 1969 1058.4 H2147 Q2151 1058.4 2151 1062.4 V1374 Z" fill="#606060"/>
<line x1="2057.7" y1="999.8" x2="2057.7" y2="1058.4" stroke="#222" stroke-width="2" />
<line x1="2013.6" y1="999.8" x2="2101.7" y2="999.8" stroke="#222" stroke-width="2" />
<line x1="2057.7" y1="1058.4" x2="2057.7" y2="1121.5" stroke="#1c1c1c" stroke-width="2" />
<line x1="2013.6" y1="1121.5" x2="2101.7" y2="1121.5" stroke="#1c1c1c" stroke-width="2" />
<text x="2061" y="980" font-size="38" font-family='"Liberation Serif", "DejaVu Serif", serif' text-anchor="middle" fill="#6a6a6a" letter-spacing="6">**</text>
<line x1="1670.3" y1="845.7" x2="1670.3" y2="1376.7" stroke="#000" stroke-width="5.4" />
<line x1="1654.6" y1="1374" x2="2189" y2="1374" stroke="#000" stroke-width="5.4" />
<line x1="1654.6" y1="1298.9" x2="1670.3" y2="1298.9" stroke="#000" stroke-width="4.6" />
<line x1="1654.6" y1="1223.7" x2="1670.3" y2="1223.7" stroke="#000" stroke-width="4.6" />
<line x1="1654.6" y1="1148.6" x2="1670.3" y2="1148.6" stroke="#000" stroke-width="4.6" />
<line x1="1654.6" y1="1073.4" x2="1670.3" y2="1073.4" stroke="#000" stroke-width="4.6" />
<line x1="1654.6" y1="998.3" x2="1670.3" y2="998.3" stroke="#000" stroke-width="4.6" />
<line x1="1654.6" y1="923.1" x2="1670.3" y2="923.1" stroke="#000" stroke-width="4.6" />
<line x1="1654.6" y1="848" x2="1670.3" y2="848" stroke="#000" stroke-width="4.6" />
<line x1="1799" y1="1374" x2="1799" y2="1388.7" stroke="#000" stroke-width="4.6" />
<line x1="2057.7" y1="1374" x2="2057.7" y2="1388.7" stroke="#000" stroke-width="4.6" />
<text x="1651" y="1387.5" font-size="38" font-family='"Liberation Sans", "DejaVu Sans", sans-serif' font-weight="bold" text-anchor="end" letter-spacing="2.2">0</text>
<text x="1651" y="1312.4" font-size="38" font-family='"Liberation Sans", "DejaVu Sans", sans-serif' font-weight="bold" text-anchor="end" letter-spacing="2.2">5</text>
<text x="1651" y="1237.2" font-size="38" font-family='"Liberation Sans", "DejaVu Sans", sans-serif' font-weight="bold" text-anchor="end" letter-spacing="2.2">10</text>
<text x="1651" y="1162.1" font-size="38" font-family='"Liberation Sans", "DejaVu Sans", sans-serif' font-weight="bold" text-anchor="end" letter-spacing="2.2">15</text>
<text x="1651" y="1086.9" font-size="38" font-family='"Liberation Sans", "DejaVu Sans", sans-serif' font-weight="bold" text-anchor="end" letter-spacing="2.2">20</text>
<text x="1651" y="1011.8" font-size="38" font-family='"Liberation Sans", "DejaVu Sans", sans-serif' font-weight="bold" text-anchor="end" letter-spacing="2.2">25</text>
<text x="1651" y="936.6" font-size="38" font-family='"Liberation Sans", "DejaVu Sans", sans-serif' font-weight="bold" text-anchor="end" letter-spacing="2.2">30</text>
<text x="1651" y="861.5" font-size="38" font-family='"Liberation Sans", "DejaVu Sans", sans-serif' font-weight="bold" text-anchor="end" letter-spacing="2.2">35</text></g>
<text x="1581" y="341" font-size="60" font-family='"Liberation Serif", "DejaVu Serif", serif' font-weight="bold" text-anchor="middle" transform="rotate(-90 1581 341)" textLength="303" lengthAdjust="spacingAndGlyphs">% Inhibition</text>
<text x="1792.4" y="795.8" font-size="56" font-family='"Liberation Serif", "DejaVu Serif", serif' font-weight="bold" textLength="277" lengthAdjust="spacingAndGlyphs">Treatments</text>
<text x="1808" y="640" font-size="39" font-family='"Liberation Serif", "DejaVu Serif", serif' font-weight="bold" text-anchor="end" transform="rotate(-33 1808 640)">IiR515</text>
<text x="2066" y="640" font-size="39" font-family='"Liberation Serif", "DejaVu Serif", serif' font-weight="bold" text-anchor="end" transform="rotate(-33 2066 640)">IiR915</text>
<text x="1563" y="1117" font-size="64" font-family='"Liberation Serif", "DejaVu Serif", serif' font-weight="bold" text-anchor="middle" transform="rotate(-90 1563 1117)" textLength="332" lengthAdjust="spacingAndGlyphs">% Inhibition</text>
<text x="1776.6" y="1588.5" font-size="62" font-family='"Liberation Serif", "DejaVu Serif", serif' font-weight="bold" textLength="306" lengthAdjust="spacingAndGlyphs">Treatments</text>
<text x="1809" y="1423" font-size="36" font-family='"Liberation Sans", "DejaVu Sans", sans-serif' font-weight="bold" font-style="italic" text-anchor="end" transform="rotate(-30 1809 1423)" letter-spacing="3.7">TRV<tspan font-size="26">2</tspan>-IiR515</text>
<text x="2067" y="1423" font-size="36" font-family='"Liberation Sans", "DejaVu Sans", sans-serif' font-weight="bold" font-style="italic" text-anchor="end" transform="rotate(-30 2067 1423)" letter-spacing="3.7">TRV<tspan font-size="26">2</tspan>-IiR915</text>
<g id="chart-f"><line x1="329.7" y1="1689.6" x2="329.7" y2="2238" stroke="#000" stroke-width="3.6" />
<line x1="327.9" y1="2236.2" x2="997.8" y2="2236.2" stroke="#000" stroke-width="3.6" />
<line x1="329.7" y1="2127.2" x2="340.7" y2="2127.2" stroke="#000" stroke-width="3.6" />
<line x1="329.7" y1="2018.3" x2="340.7" y2="2018.3" stroke="#000" stroke-width="3.6" />
<line x1="329.7" y1="1909.3" x2="340.7" y2="1909.3" stroke="#000" stroke-width="3.6" />
<line x1="329.7" y1="1800.4" x2="340.7" y2="1800.4" stroke="#000" stroke-width="3.6" />
<line x1="329.7" y1="1691.4" x2="340.7" y2="1691.4" stroke="#000" stroke-width="3.6" />
<line x1="552.3" y1="2236.2" x2="552.3" y2="2225.2" stroke="#000" stroke-width="3.6" />
<line x1="774" y1="2236.2" x2="774" y2="2225.2" stroke="#000" stroke-width="3.6" />
<line x1="996" y1="2236.2" x2="996" y2="2225.2" stroke="#000" stroke-width="3.6" />
<line x1="329.7" y1="2236.2" x2="329.7" y2="2236.2" stroke="#000" stroke-width="3.6" />
<text x="316" y="2246.2" font-size="30" font-family='"Liberation Serif", "DejaVu Serif", serif' font-weight="bold" text-anchor="end">5.5</text>
<text x="316" y="2137.2" font-size="30" font-family='"Liberation Serif", "DejaVu Serif", serif' font-weight="bold" text-anchor="end">6.0</text>
<text x="316" y="2028.3" font-size="30" font-family='"Liberation Serif", "DejaVu Serif", serif' font-weight="bold" text-anchor="end">6.5</text>
<text x="316" y="1919.3" font-size="30" font-family='"Liberation Serif", "DejaVu Serif", serif' font-weight="bold" text-anchor="end">7.0</text>
<text x="316" y="1810.4" font-size="30" font-family='"Liberation Serif", "DejaVu Serif", serif' font-weight="bold" text-anchor="end">7.5</text>
<text x="316" y="1701.4" font-size="30" font-family='"Liberation Serif", "DejaVu Serif", serif' font-weight="bold" text-anchor="end">8.0</text>
<text x="329.7" y="2279" font-size="30" font-family='"Liberation Serif", "DejaVu Serif", serif' font-weight="bold" text-anchor="middle">0</text>
<text x="552.3" y="2279" font-size="30" font-family='"Liberation Serif", "DejaVu Serif", serif' font-weight="bold" text-anchor="middle">1</text>
<text x="774" y="2279" font-size="30" font-family='"Liberation Serif", "DejaVu Serif", serif' font-weight="bold" text-anchor="middle">2</text>
<text x="996" y="2279" font-size="30" font-family='"Liberation Serif", "DejaVu Serif", serif' font-weight="bold" text-anchor="middle">3</text>
<line x1="329.7" y1="1845" x2="329.7" y2="1873.4" stroke="#555" stroke-width="1.6" />
<line x1="320.2" y1="1845" x2="339.2" y2="1845" stroke="#555" stroke-width="1.6" />
<line x1="320.2" y1="1873.4" x2="339.2" y2="1873.4" stroke="#555" stroke-width="1.6" />
<line x1="552.3" y1="1973.6" x2="552.3" y2="2012.8" stroke="#555" stroke-width="1.6" />
<line x1="542.8" y1="1973.6" x2="561.8" y2="1973.6" stroke="#555" stroke-width="1.6" />
<line x1="542.8" y1="2012.8" x2="561.8" y2="2012.8" stroke="#555" stroke-width="1.6" />
<line x1="996" y1="2000.8" x2="996" y2="2044.4" stroke="#555" stroke-width="1.6" />
<line x1="986.5" y1="2000.8" x2="1005.5" y2="2000.8" stroke="#555" stroke-width="1.6" />
<line x1="986.5" y1="2044.4" x2="1005.5" y2="2044.4" stroke="#555" stroke-width="1.6" />
<polyline points="329.7,1862.5 552.3,1993.2 774,2025.9 996,2022.6" fill="none" stroke="#111" stroke-width="1.8"/>
<path d="M329.7 1851.5 L340.6 1870.9 L318.8 1870.9 Z" fill="#000"/>
<path d="M552.3 1982.2 L563.2 2001.7 L541.4 2001.7 Z" fill="#000"/>
<path d="M774 2014.9 L784.9 2034.4 L763.1 2034.4 Z" fill="#000"/>
<path d="M996 2011.7 L1006.9 2031.1 L985.1 2031.1 Z" fill="#000"/>
<line x1="996" y1="1943.1" x2="996" y2="1962.7" stroke="#555" stroke-width="1.6" />
<line x1="986.5" y1="1943.1" x2="1005.5" y2="1943.1" stroke="#555" stroke-width="1.6" />
<line x1="986.5" y1="1962.7" x2="1005.5" y2="1962.7" stroke="#555" stroke-width="1.6" />
<polyline points="329.7,1887.5 552.3,1884.9 774,1893 996,1952.9" fill="none" stroke="#111" stroke-width="1.8"/>
<circle cx="329.7" cy="1887.5" r="9.5" fill="#000"/>
<circle cx="552.3" cy="1884.9" r="9.5" fill="#000"/>
<circle cx="774" cy="1893" r="9.5" fill="#000"/>
<circle cx="996" cy="1952.9" r="9.5" fill="#000"/>
<text x="552.5" y="2040" font-size="31" font-family='"Liberation Serif", "DejaVu Serif", serif' text-anchor="middle" fill="#555" letter-spacing="3">**</text>
<text x="775" y="2074" font-size="31" font-family='"Liberation Serif", "DejaVu Serif", serif' text-anchor="middle" fill="#555" letter-spacing="3">**</text>
<text x="996" y="2078" font-size="31" font-family='"Liberation Serif", "DejaVu Serif", serif' text-anchor="middle" fill="#555" letter-spacing="3">**</text>
<line x1="768" y1="1720" x2="810" y2="1720" stroke="#222" stroke-width="1.6" />
<path d="M789 1709 L799.9 1728.5 L778.1 1728.5 Z" fill="#000"/>
<text x="833" y="1729" font-size="35" font-family='"Liberation Serif", "DejaVu Serif", serif' font-weight="bold" font-style="italic" textLength="112" lengthAdjust="spacingAndGlyphs">IiR515</text>
<line x1="768" y1="1773" x2="810" y2="1773" stroke="#222" stroke-width="1.6" />
<circle cx="789" cy="1773" r="9.5" fill="#000"/>
<text x="833" y="1784" font-size="35" font-family='"Liberation Serif", "DejaVu Serif", serif' font-weight="bold" textLength="154" lengthAdjust="spacingAndGlyphs">WB800-e</text>
<text x="238" y="1961" font-size="44" font-family='"Liberation Serif", "DejaVu Serif", serif' font-weight="bold" text-anchor="middle" transform="rotate(-90 238 1961)" textLength="417" lengthAdjust="spacingAndGlyphs">Population of <tspan font-style="italic">C. fangii</tspan></text>
<text x="663.5" y="2354" font-size="40" font-family='"Liberation Serif", "DejaVu Serif", serif' font-weight="bold" text-anchor="middle" textLength="513" lengthAdjust="spacingAndGlyphs">Days after inoculation (day)</text></g>
<g id="chart-g"><line x1="1429.2" y1="1685.2" x2="1429.2" y2="2231.3" stroke="#000" stroke-width="3.6" />
<line x1="1427.4" y1="2229.5" x2="2099.3" y2="2229.5" stroke="#000" stroke-width="3.6" />
<line x1="1429.2" y1="2121" x2="1440.2" y2="2121" stroke="#000" stroke-width="3.6" />
<line x1="1429.2" y1="2012.5" x2="1440.2" y2="2012.5" stroke="#000" stroke-width="3.6" />
<line x1="1429.2" y1="1904" x2="1440.2" y2="1904" stroke="#000" stroke-width="3.6" />
<line x1="1429.2" y1="1795.5" x2="1440.2" y2="1795.5" stroke="#000" stroke-width="3.6" />
<line x1="1429.2" y1="1687" x2="1440.2" y2="1687" stroke="#000" stroke-width="3.6" />
<line x1="1652" y1="2229.5" x2="1652" y2="2218.5" stroke="#000" stroke-width="3.6" />
<line x1="1875" y1="2229.5" x2="1875" y2="2218.5" stroke="#000" stroke-width="3.6" />
<line x1="2097.5" y1="2229.5" x2="2097.5" y2="2218.5" stroke="#000" stroke-width="3.6" />
<line x1="1429.2" y1="2229.5" x2="1429.2" y2="2229.5" stroke="#000" stroke-width="3.6" />
<text x="1415" y="2239.5" font-size="30" font-family='"Liberation Serif", "DejaVu Serif", serif' font-weight="bold" text-anchor="end">5.5</text>
<text x="1415" y="2131" font-size="30" font-family='"Liberation Serif", "DejaVu Serif", serif' font-weight="bold" text-anchor="end">6.0</text>
<text x="1415" y="2022.5" font-size="30" font-family='"Liberation Serif", "DejaVu Serif", serif' font-weight="bold" text-anchor="end">6.5</text>
<text x="1415" y="1914" font-size="30" font-family='"Liberation Serif", "DejaVu Serif", serif' font-weight="bold" text-anchor="end">7.0</text>
<text x="1415" y="1805.5" font-size="30" font-family='"Liberation Serif", "DejaVu Serif", serif' font-weight="bold" text-anchor="end">7.5</text>
<text x="1415" y="1697" font-size="30" font-family='"Liberation Serif", "DejaVu Serif", serif' font-weight="bold" text-anchor="end">8.0</text>
<text x="1429.2" y="2272" font-size="30" font-family='"Liberation Serif", "DejaVu Serif", serif' font-weight="bold" text-anchor="middle">0</text>
<text x="1652" y="2272" font-size="30" font-family='"Liberation Serif", "DejaVu Serif", serif' font-weight="bold" text-anchor="middle">1</text>
<text x="1875" y="2272" font-size="30" font-family='"Liberation Serif", "DejaVu Serif", serif' font-weight="bold" text-anchor="middle">2</text>
<text x="2097.5" y="2272" font-size="30" font-family='"Liberation Serif", "DejaVu Serif", serif' font-weight="bold" text-anchor="middle">3</text>
<line x1="1875" y1="1987.5" x2="1875" y2="2035.3" stroke="#555" stroke-width="1.6" />
<line x1="1865.5" y1="1987.5" x2="1884.5" y2="1987.5" stroke="#555" stroke-width="1.6" />
<line x1="1865.5" y1="2035.3" x2="1884.5" y2="2035.3" stroke="#555" stroke-width="1.6" />
<line x1="2097.5" y1="2086.3" x2="2097.5" y2="2118.8" stroke="#555" stroke-width="1.6" />
<line x1="2088" y1="2086.3" x2="2107" y2="2086.3" stroke="#555" stroke-width="1.6" />
<line x1="2088" y1="2118.8" x2="2107" y2="2118.8" stroke="#555" stroke-width="1.6" />
<polyline points="1429.2,1893.2 1652,2017.9 1875,2011.4 2097.5,2102.6" fill="none" stroke="#111" stroke-width="1.8"/>
<path d="M1429.2 1882.2 L1440.1 1901.6 L1418.3 1901.6 Z" fill="#000"/>
<path d="M1652 2007 L1662.9 2026.4 L1641.1 2026.4 Z" fill="#000"/>
<path d="M1875 2000.4 L1885.9 2019.9 L1864.1 2019.9 Z" fill="#000"/>
<path d="M2097.5 2091.6 L2108.4 2111 L2086.6 2111 Z" fill="#000"/>
<line x1="2097.5" y1="1937.6" x2="2097.5" y2="1957.2" stroke="#555" stroke-width="1.6" />
<line x1="2088" y1="1937.6" x2="2107" y2="1937.6" stroke="#555" stroke-width="1.6" />
<line x1="2088" y1="1957.2" x2="2107" y2="1957.2" stroke="#555" stroke-width="1.6" />
<polyline points="1429.2,1882.3 1652,1879 1875,1887.7 2097.5,1947.4" fill="none" stroke="#111" stroke-width="1.8"/>
<circle cx="1429.2" cy="1882.3" r="9.5" fill="#000"/>
<circle cx="1652" cy="1879" r="9.5" fill="#000"/>
<circle cx="1875" cy="1887.7" r="9.5" fill="#000"/>
<circle cx="2097.5" cy="1947.4" r="9.5" fill="#000"/>
<text x="1652" y="2060" font-size="31" font-family='"Liberation Serif", "DejaVu Serif", serif' text-anchor="middle" fill="#555" letter-spacing="3">**</text>
<text x="1876" y="2063" font-size="31" font-family='"Liberation Serif", "DejaVu Serif", serif' text-anchor="middle" fill="#555" letter-spacing="3">**</text>
<text x="2099" y="2153" font-size="31" font-family='"Liberation Serif", "DejaVu Serif", serif' text-anchor="middle" fill="#555" letter-spacing="3">**</text>
<line x1="1868" y1="1720" x2="1910" y2="1720" stroke="#222" stroke-width="1.6" />
<path d="M1889 1709 L1899.9 1728.5 L1878.1 1728.5 Z" fill="#000"/>
<text x="1934" y="1730" font-size="35" font-family='"Liberation Serif", "DejaVu Serif", serif' font-weight="bold" font-style="italic" textLength="112" lengthAdjust="spacingAndGlyphs">IiR915</text>
<line x1="1868" y1="1777" x2="1910" y2="1777" stroke="#222" stroke-width="1.6" />
<circle cx="1889" cy="1777" r="9.5" fill="#000"/>
<text x="1934" y="1788" font-size="35" font-family='"Liberation Serif", "DejaVu Serif", serif' font-weight="bold" textLength="154" lengthAdjust="spacingAndGlyphs">WB800-e</text>
<text x="1337" y="1954" font-size="44" font-family='"Liberation Serif", "DejaVu Serif", serif' font-weight="bold" text-anchor="middle" transform="rotate(-90 1337 1954)" textLength="417" lengthAdjust="spacingAndGlyphs">Population of <tspan font-style="italic">C. fangii</tspan></text>
<text x="1765" y="2350" font-size="40" font-family='"Liberation Serif", "DejaVu Serif", serif' font-weight="bold" text-anchor="middle" textLength="515" lengthAdjust="spacingAndGlyphs">Days after inoculation (day)</text></g>
<g id="chart-h"><line x1="335.3" y1="2423.2" x2="335.3" y2="2972.3" stroke="#000" stroke-width="3.6" />
<line x1="333.5" y1="2970.5" x2="1005.3" y2="2970.5" stroke="#000" stroke-width="3.6" />
<line x1="335.3" y1="2861.4" x2="346.3" y2="2861.4" stroke="#000" stroke-width="3.6" />
<line x1="335.3" y1="2752.3" x2="346.3" y2="2752.3" stroke="#000" stroke-width="3.6" />
<line x1="335.3" y1="2643.2" x2="346.3" y2="2643.2" stroke="#000" stroke-width="3.6" />
<line x1="335.3" y1="2534.1" x2="346.3" y2="2534.1" stroke="#000" stroke-width="3.6" />
<line x1="335.3" y1="2425" x2="346.3" y2="2425" stroke="#000" stroke-width="3.6" />
<line x1="559.5" y1="2970.5" x2="559.5" y2="2959.5" stroke="#000" stroke-width="3.6" />
<line x1="781.3" y1="2970.5" x2="781.3" y2="2959.5" stroke="#000" stroke-width="3.6" />
<line x1="1003.5" y1="2970.5" x2="1003.5" y2="2959.5" stroke="#000" stroke-width="3.6" />
<line x1="335.3" y1="2970.5" x2="335.3" y2="2970.5" stroke="#000" stroke-width="3.6" />
<text x="322" y="2980.5" font-size="30" font-family='"Liberation Serif", "DejaVu Serif", serif' font-weight="bold" text-anchor="end">5.5</text>
<text x="322" y="2871.4" font-size="30" font-family='"Liberation Serif", "DejaVu Serif", serif' font-weight="bold" text-anchor="end">6.0</text>
<text x="322" y="2762.3" font-size="30" font-family='"Liberation Serif", "DejaVu Serif", serif' font-weight="bold" text-anchor="end">6.5</text>
<text x="322" y="2653.2" font-size="30" font-family='"Liberation Serif", "DejaVu Serif", serif' font-weight="bold" text-anchor="end">7.0</text>
<text x="322" y="2544.1" font-size="30" font-family='"Liberation Serif", "DejaVu Serif", serif' font-weight="bold" text-anchor="end">7.5</text>
<text x="322" y="2435" font-size="30" font-family='"Liberation Serif", "DejaVu Serif", serif' font-weight="bold" text-anchor="end">8.0</text>
<text x="335.3" y="3013" font-size="30" font-family='"Liberation Serif", "DejaVu Serif", serif' font-weight="bold" text-anchor="middle">0</text>
<text x="559.5" y="3013" font-size="30" font-family='"Liberation Serif", "DejaVu Serif", serif' font-weight="bold" text-anchor="middle">1</text>
<text x="781.3" y="3013" font-size="30" font-family='"Liberation Serif", "DejaVu Serif", serif' font-weight="bold" text-anchor="middle">2</text>
<text x="1003.5" y="3013" font-size="30" font-family='"Liberation Serif", "DejaVu Serif", serif' font-weight="bold" text-anchor="middle">3</text>
<line x1="559.5" y1="2680.3" x2="559.5" y2="2765.4" stroke="#555" stroke-width="1.6" />
<line x1="550" y1="2680.3" x2="569" y2="2680.3" stroke="#555" stroke-width="1.6" />
<line x1="550" y1="2765.4" x2="569" y2="2765.4" stroke="#555" stroke-width="1.6" />
<line x1="781.3" y1="2777.4" x2="781.3" y2="2845" stroke="#555" stroke-width="1.6" />
<line x1="771.8" y1="2777.4" x2="790.8" y2="2777.4" stroke="#555" stroke-width="1.6" />
<line x1="771.8" y1="2845" x2="790.8" y2="2845" stroke="#555" stroke-width="1.6" />
<line x1="1003.5" y1="2746.8" x2="1003.5" y2="2805.8" stroke="#555" stroke-width="1.6" />
<line x1="994" y1="2746.8" x2="1013" y2="2746.8" stroke="#555" stroke-width="1.6" />
<line x1="994" y1="2805.8" x2="1013" y2="2805.8" stroke="#555" stroke-width="1.6" />
<polyline points="335.3,2658.5 559.5,2723.9 781.3,2812.3 1003.5,2777.4" fill="none" stroke="#111" stroke-width="1.8"/>
<path d="M335.3 2647.5 L346.2 2667 L324.4 2667 Z" fill="#000"/>
<path d="M559.5 2713 L570.4 2732.4 L548.6 2732.4 Z" fill="#000"/>
<path d="M781.3 2801.3 L792.2 2820.8 L770.4 2820.8 Z" fill="#000"/>
<path d="M1003.5 2766.4 L1014.4 2785.9 L992.6 2785.9 Z" fill="#000"/>
<line x1="559.5" y1="2680.3" x2="559.5" y2="2732.7" stroke="#555" stroke-width="1.6" />
<line x1="550" y1="2680.3" x2="569" y2="2680.3" stroke="#555" stroke-width="1.6" />
<line x1="550" y1="2732.7" x2="569" y2="2732.7" stroke="#555" stroke-width="1.6" />
<line x1="781.3" y1="2720.7" x2="781.3" y2="2770.8" stroke="#555" stroke-width="1.6" />
<line x1="771.8" y1="2720.7" x2="790.8" y2="2720.7" stroke="#555" stroke-width="1.6" />
<line x1="771.8" y1="2770.8" x2="790.8" y2="2770.8" stroke="#555" stroke-width="1.6" />
<line x1="1003.5" y1="2684.7" x2="1003.5" y2="2721.8" stroke="#555" stroke-width="1.6" />
<line x1="994" y1="2684.7" x2="1013" y2="2684.7" stroke="#555" stroke-width="1.6" />
<line x1="994" y1="2721.8" x2="1013" y2="2721.8" stroke="#555" stroke-width="1.6" />
<polyline points="335.3,2642.1 559.5,2708.7 781.3,2745.8 1003.5,2703.2" fill="none" stroke="#111" stroke-width="1.8"/>
<circle cx="335.3" cy="2642.1" r="9.5" fill="#000"/>
<circle cx="559.5" cy="2708.7" r="9.5" fill="#000"/>
<circle cx="781.3" cy="2745.8" r="9.5" fill="#000"/>
<circle cx="1003.5" cy="2703.2" r="9.5" fill="#000"/>
<text x="782" y="2870" font-size="31" font-family='"Liberation Serif", "DejaVu Serif", serif' text-anchor="middle" fill="#555" letter-spacing="3">*</text>
<text x="1003" y="2830" font-size="31" font-family='"Liberation Serif", "DejaVu Serif", serif' text-anchor="middle" fill="#555" letter-spacing="3">*</text>
<line x1="772" y1="2473" x2="814" y2="2473" stroke="#222" stroke-width="1.6" />
<path d="M793 2462 L803.9 2481.5 L782.1 2481.5 Z" fill="#000"/>
<text x="837" y="2483" font-size="35" font-family='"Liberation Serif", "DejaVu Serif", serif' font-weight="bold" font-style="italic" textLength="112" lengthAdjust="spacingAndGlyphs">IiR515</text>
<line x1="772" y1="2529" x2="814" y2="2529" stroke="#222" stroke-width="1.6" />
<circle cx="793" cy="2529" r="9.5" fill="#000"/>
<text x="837" y="2540" font-size="35" font-family='"Liberation Serif", "DejaVu Serif", serif' font-weight="bold" textLength="154" lengthAdjust="spacingAndGlyphs">WB800-e</text>
<text x="243" y="2692" font-size="44" font-family='"Liberation Serif", "DejaVu Serif", serif' font-weight="bold" text-anchor="middle" transform="rotate(-90 243 2692)" textLength="572" lengthAdjust="spacingAndGlyphs">Population of <tspan font-style="italic">C. michiganensis</tspan></text>
<text x="672" y="3083" font-size="40" font-family='"Liberation Serif", "DejaVu Serif", serif' font-weight="bold" text-anchor="middle" textLength="515" lengthAdjust="spacingAndGlyphs">Days after inoculation (day)</text></g>
<g id="chart-i"><line x1="1433" y1="2420.7" x2="1433" y2="2970.8" stroke="#000" stroke-width="3.6" />
<line x1="1431.2" y1="2969" x2="2103.8" y2="2969" stroke="#000" stroke-width="3.6" />
<line x1="1433" y1="2859.7" x2="1444" y2="2859.7" stroke="#000" stroke-width="3.6" />
<line x1="1433" y1="2750.4" x2="1444" y2="2750.4" stroke="#000" stroke-width="3.6" />
<line x1="1433" y1="2641.1" x2="1444" y2="2641.1" stroke="#000" stroke-width="3.6" />
<line x1="1433" y1="2531.8" x2="1444" y2="2531.8" stroke="#000" stroke-width="3.6" />
<line x1="1433" y1="2422.5" x2="1444" y2="2422.5" stroke="#000" stroke-width="3.6" />
<line x1="1656" y1="2969" x2="1656" y2="2958" stroke="#000" stroke-width="3.6" />
<line x1="1879" y1="2969" x2="1879" y2="2958" stroke="#000" stroke-width="3.6" />
<line x1="2102" y1="2969" x2="2102" y2="2958" stroke="#000" stroke-width="3.6" />
<line x1="1433" y1="2969" x2="1433" y2="2969" stroke="#000" stroke-width="3.6" />
<text x="1419" y="2979" font-size="30" font-family='"Liberation Serif", "DejaVu Serif", serif' font-weight="bold" text-anchor="end">5.5</text>
<text x="1419" y="2869.7" font-size="30" font-family='"Liberation Serif", "DejaVu Serif", serif' font-weight="bold" text-anchor="end">6.0</text>
<text x="1419" y="2760.4" font-size="30" font-family='"Liberation Serif", "DejaVu Serif", serif' font-weight="bold" text-anchor="end">6.5</text>
<text x="1419" y="2651.1" font-size="30" font-family='"Liberation Serif", "DejaVu Serif", serif' font-weight="bold" text-anchor="end">7.0</text>
<text x="1419" y="2541.8" font-size="30" font-family='"Liberation Serif", "DejaVu Serif", serif' font-weight="bold" text-anchor="end">7.5</text>
<text x="1419" y="2432.5" font-size="30" font-family='"Liberation Serif", "DejaVu Serif", serif' font-weight="bold" text-anchor="end">8.0</text>
<text x="1433" y="3012" font-size="30" font-family='"Liberation Serif", "DejaVu Serif", serif' font-weight="bold" text-anchor="middle">0</text>
<text x="1656" y="3012" font-size="30" font-family='"Liberation Serif", "DejaVu Serif", serif' font-weight="bold" text-anchor="middle">1</text>
<text x="1879" y="3012" font-size="30" font-family='"Liberation Serif", "DejaVu Serif", serif' font-weight="bold" text-anchor="middle">2</text>
<text x="2102" y="3012" font-size="30" font-family='"Liberation Serif", "DejaVu Serif", serif' font-weight="bold" text-anchor="middle">3</text>
<line x1="1433" y1="2629.1" x2="1433" y2="2681.5" stroke="#555" stroke-width="1.6" />
<line x1="1423.5" y1="2629.1" x2="1442.5" y2="2629.1" stroke="#555" stroke-width="1.6" />
<line x1="1423.5" y1="2681.5" x2="1442.5" y2="2681.5" stroke="#555" stroke-width="1.6" />
<line x1="1656" y1="2774.4" x2="1656" y2="2831.3" stroke="#555" stroke-width="1.6" />
<line x1="1646.5" y1="2774.4" x2="1665.5" y2="2774.4" stroke="#555" stroke-width="1.6" />
<line x1="1646.5" y1="2831.3" x2="1665.5" y2="2831.3" stroke="#555" stroke-width="1.6" />
<line x1="1879" y1="2754.8" x2="1879" y2="2816" stroke="#555" stroke-width="1.6" />
<line x1="1869.5" y1="2754.8" x2="1888.5" y2="2754.8" stroke="#555" stroke-width="1.6" />
<line x1="1869.5" y1="2816" x2="1888.5" y2="2816" stroke="#555" stroke-width="1.6" />
<line x1="2102" y1="2743.8" x2="2102" y2="2785.4" stroke="#555" stroke-width="1.6" />
<line x1="2092.5" y1="2743.8" x2="2111.5" y2="2743.8" stroke="#555" stroke-width="1.6" />
<line x1="2092.5" y1="2785.4" x2="2111.5" y2="2785.4" stroke="#555" stroke-width="1.6" />
<polyline points="1433,2655.3 1656,2802.9 1879,2785.4 2102,2764.6" fill="none" stroke="#111" stroke-width="1.8"/>
<path d="M1433 2644.3 L1443.9 2663.8 L1422.1 2663.8 Z" fill="#000"/>
<path d="M1656 2791.9 L1666.9 2811.3 L1645.1 2811.3 Z" fill="#000"/>
<path d="M1879 2774.4 L1889.9 2793.9 L1868.1 2793.9 Z" fill="#000"/>
<path d="M2102 2753.6 L2112.9 2773.1 L2091.1 2773.1 Z" fill="#000"/>
<line x1="1433" y1="2626.9" x2="1433" y2="2653.1" stroke="#555" stroke-width="1.6" />
<line x1="1423.5" y1="2626.9" x2="1442.5" y2="2626.9" stroke="#555" stroke-width="1.6" />
<line x1="1423.5" y1="2653.1" x2="1442.5" y2="2653.1" stroke="#555" stroke-width="1.6" />
<line x1="1656" y1="2689.2" x2="1656" y2="2726.4" stroke="#555" stroke-width="1.6" />
<line x1="1646.5" y1="2689.2" x2="1665.5" y2="2689.2" stroke="#555" stroke-width="1.6" />
<line x1="1646.5" y1="2726.4" x2="1665.5" y2="2726.4" stroke="#555" stroke-width="1.6" />
<line x1="1879" y1="2717.6" x2="1879" y2="2770.1" stroke="#555" stroke-width="1.6" />
<line x1="1869.5" y1="2717.6" x2="1888.5" y2="2717.6" stroke="#555" stroke-width="1.6" />
<line x1="1869.5" y1="2770.1" x2="1888.5" y2="2770.1" stroke="#555" stroke-width="1.6" />
<line x1="2102" y1="2681.5" x2="2102" y2="2720.9" stroke="#555" stroke-width="1.6" />
<line x1="2092.5" y1="2681.5" x2="2111.5" y2="2681.5" stroke="#555" stroke-width="1.6" />
<line x1="2092.5" y1="2720.9" x2="2111.5" y2="2720.9" stroke="#555" stroke-width="1.6" />
<polyline points="1433,2640 1656,2707.8 1879,2743.8 2102,2701.2" fill="none" stroke="#111" stroke-width="1.8"/>
<circle cx="1433" cy="2640" r="9.5" fill="#000"/>
<circle cx="1656" cy="2707.8" r="9.5" fill="#000"/>
<circle cx="1879" cy="2743.8" r="9.5" fill="#000"/>
<circle cx="2102" cy="2701.2" r="9.5" fill="#000"/>
<text x="1657" y="2856" font-size="31" font-family='"Liberation Serif", "DejaVu Serif", serif' text-anchor="middle" fill="#555" letter-spacing="3">*</text>
<text x="2103" y="2815" font-size="31" font-family='"Liberation Serif", "DejaVu Serif", serif' text-anchor="middle" fill="#555" letter-spacing="3">*</text>
<line x1="1876" y1="2484" x2="1918" y2="2484" stroke="#222" stroke-width="1.6" />
<path d="M1897 2473 L1907.9 2492.5 L1886.1 2492.5 Z" fill="#000"/>
<text x="1940" y="2494" font-size="35" font-family='"Liberation Serif", "DejaVu Serif", serif' font-weight="bold" font-style="italic" textLength="112" lengthAdjust="spacingAndGlyphs">IiR915</text>
<line x1="1876" y1="2540" x2="1918" y2="2540" stroke="#222" stroke-width="1.6" />
<circle cx="1897" cy="2540" r="9.5" fill="#000"/>
<text x="1940" y="2551" font-size="35" font-family='"Liberation Serif", "DejaVu Serif", serif' font-weight="bold" textLength="154" lengthAdjust="spacingAndGlyphs">WB800-e</text>
<text x="1340" y="2692" font-size="44" font-family='"Liberation Serif", "DejaVu Serif", serif' font-weight="bold" text-anchor="middle" transform="rotate(-90 1340 2692)" textLength="572" lengthAdjust="spacingAndGlyphs">Population of <tspan font-style="italic">C. michiganensis</tspan></text>
<text x="1768" y="3086" font-size="40" font-family='"Liberation Serif", "DejaVu Serif", serif' font-weight="bold" text-anchor="middle" textLength="517" lengthAdjust="spacingAndGlyphs">Days after inoculation (day)</text></g>
</svg>
</body>
</html>
